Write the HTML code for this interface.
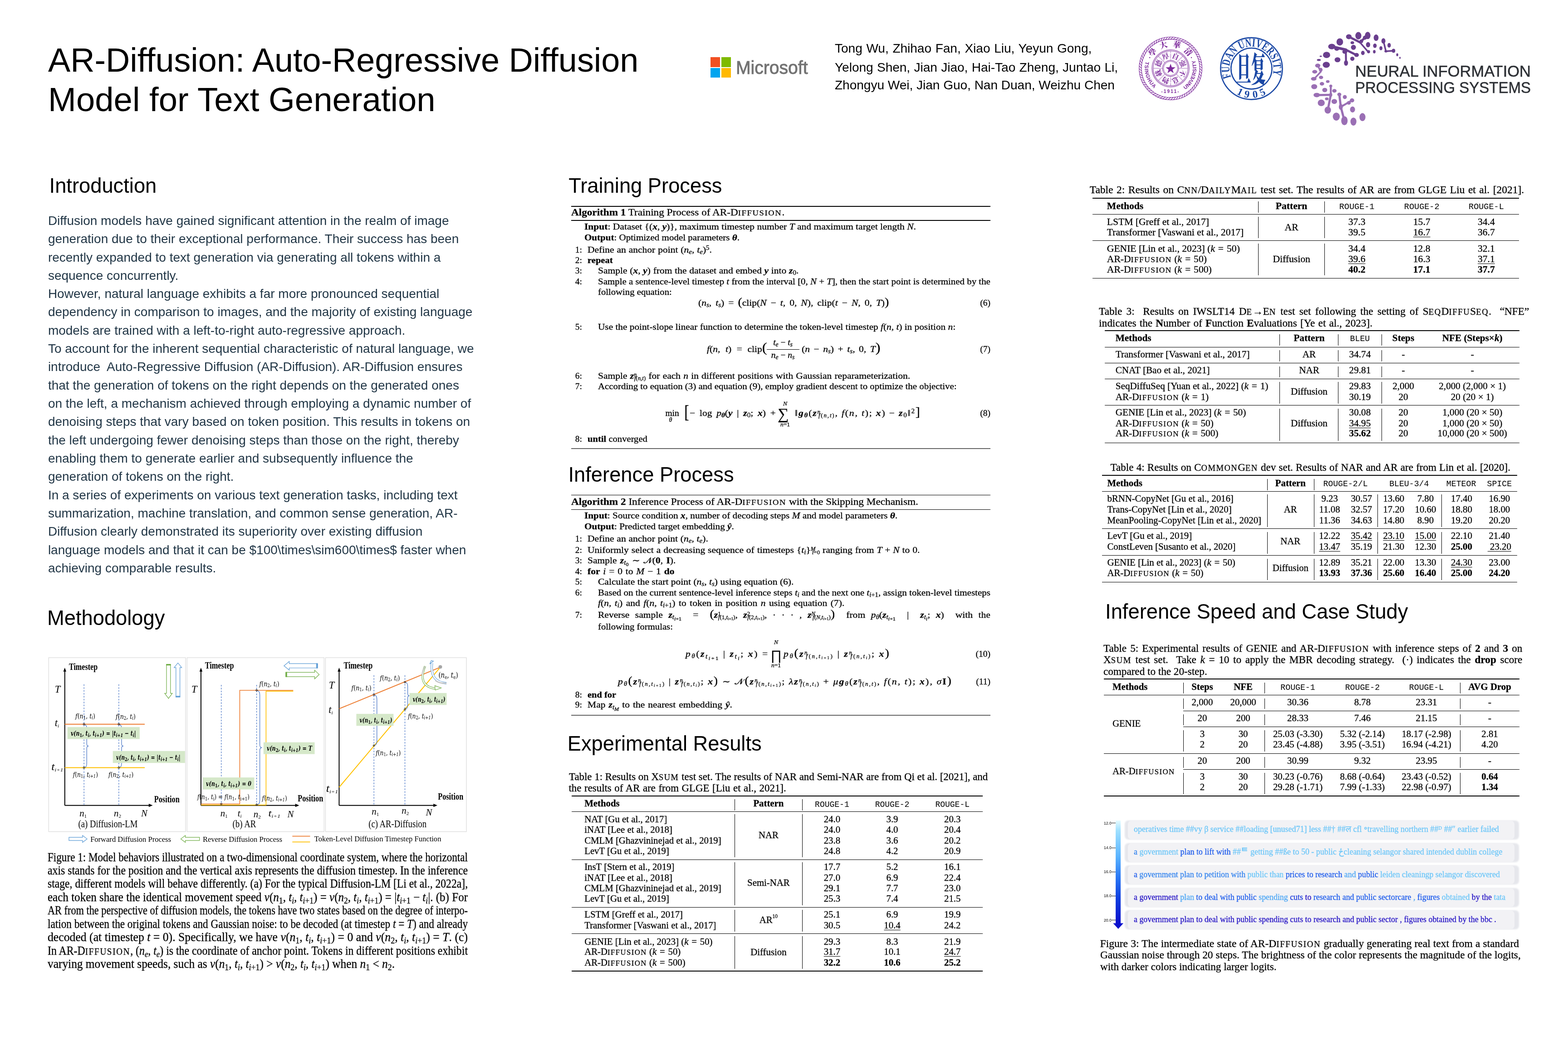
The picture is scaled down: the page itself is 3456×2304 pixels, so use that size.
<!DOCTYPE html>
<html><head><meta charset="utf-8"><title>AR-Diffusion Poster</title><style>
*{margin:0;padding:0;box-sizing:border-box}
html,body{width:3456px;height:2304px;background:#fff;overflow:hidden}
body{position:relative;font-family:"Liberation Sans", Arial, sans-serif;color:#000}
.a{position:absolute;white-space:nowrap}
.S{font-family:"Liberation Sans", Arial, sans-serif}
.R{font-family:"Liberation Serif", "Times New Roman", serif;-webkit-text-stroke:0.3px currentColor}
.M{font-family:"Liberation Mono", monospace}
.sc{text-transform:uppercase;font-size:0.8em;letter-spacing:0.09em}
i{font-style:italic}
b{font-weight:bold}
.u{text-decoration:underline;text-decoration-thickness:1.2px;text-underline-offset:3px}
sub,sup{font-size:70%;line-height:0}
sub{vertical-align:-0.25em}
sup{vertical-align:0.45em}
</style></head><body>
<div class="a S " style="left:106.3px;top:95.7px;font-size:73.8px;line-height:73.8px;transform:scaleX(0.9997);transform-origin:0 0;">AR-Diffusion: Auto-Regressive Diffusion</div>
<div class="a S " style="left:106.3px;top:183.4px;font-size:73.8px;line-height:73.8px;transform:scaleX(1.0070);transform-origin:0 0;">Model for Text Generation</div>
<div class="a" style="left:1565.5px;top:126.2px;width:21.7px;height:21.4px;background:#f25022"></div>
<div class="a" style="left:1589.7px;top:126.2px;width:21.7px;height:21.4px;background:#7fba00"></div>
<div class="a" style="left:1565.5px;top:150.1px;width:21.7px;height:21.2px;background:#00a4ef"></div>
<div class="a" style="left:1589.7px;top:150.1px;width:21.7px;height:21.2px;background:#ffb900"></div>
<div class="a S " style="left:1621.5px;top:129.0px;font-size:40px;line-height:40px;color:#737373;-webkit-text-stroke:0.9px #737373;transform:scaleX(0.9769);transform-origin:0 0;">Microsoft</div>
<div class="a S " style="left:1840.0px;top:92.9px;font-size:28px;line-height:28px;word-spacing:0.918px;">Tong Wu, Zhihao Fan, Xiao Liu, Yeyun Gong,</div>
<div class="a S " style="left:1840.0px;top:134.5px;font-size:28px;line-height:28px;word-spacing:0.579px;">Yelong Shen, Jian Jiao, Hai-Tao Zheng, Juntao Li,</div>
<div class="a S " style="left:1840.0px;top:174.0px;font-size:28px;line-height:28px;">Zhongyu Wei, Jian Guo, Nan Duan, Weizhu Chen</div>
<svg class="a" style="left:2500px;top:60px" width="360" height="180" viewBox="0 0 2352 1176"><circle cx="523" cy="593" r="453" fill="none" stroke="#7d2a9c" stroke-width="7"/><circle cx="523" cy="593" r="419" fill="none" stroke="#7d2a9c" stroke-width="7"/><path d="M523.0,173.0L558.5,142.4M559.6,174.6L597.6,147.2M595.9,179.4L636.2,155.4M631.7,187.3L673.9,166.9M666.6,198.3L710.4,181.7M700.5,212.4L745.6,199.6M733.0,229.3L779.0,220.5M763.9,249.0L810.5,244.2M793.0,271.3L839.8,270.6M820.0,296.0L866.7,299.4M844.7,323.0L891.0,330.5M867.0,352.1L912.5,363.6M886.7,383.0L931.0,398.4M903.6,415.5L946.4,434.7M917.7,449.4L958.6,472.2M928.7,484.3L967.4,510.6M936.6,520.1L972.9,549.7M941.4,556.4L975.0,589.1M943.0,593.0L973.6,628.5M941.4,629.6L968.8,667.6M936.6,665.9L960.6,706.2M928.7,701.7L949.1,743.9M917.7,736.6L934.3,780.4M903.6,770.5L916.4,815.6M886.7,803.0L895.5,849.0M867.0,833.9L871.8,880.5M844.7,863.0L845.4,909.8M820.0,890.0L816.6,936.7M793.0,914.7L785.5,961.0M763.9,937.0L752.4,982.5M733.0,956.7L717.6,1001.0M700.5,973.6L681.3,1016.4M666.6,987.7L643.8,1028.6M631.7,998.7L605.4,1037.4M595.9,1006.6L566.3,1042.9M559.6,1011.4L526.9,1045.0M523.0,1013.0L487.5,1043.6M486.4,1011.4L448.4,1038.8M450.1,1006.6L409.8,1030.6M414.3,998.7L372.1,1019.1M379.4,987.7L335.6,1004.3M345.5,973.6L300.4,986.4M313.0,956.7L267.0,965.5M282.1,937.0L235.5,941.8M253.0,914.7L206.2,915.4M226.0,890.0L179.3,886.6M201.3,863.0L155.0,855.5M179.0,833.9L133.5,822.4M159.3,803.0L115.0,787.6M142.4,770.5L99.6,751.3M128.3,736.6L87.4,713.8M117.3,701.7L78.6,675.4M109.4,665.9L73.1,636.3M104.6,629.6L71.0,596.9M103.0,593.0L72.4,557.5M104.6,556.4L77.2,518.4M109.4,520.1L85.4,479.8M117.3,484.3L96.9,442.1M128.3,449.4L111.7,405.6M142.4,415.5L129.6,370.4M159.3,383.0L150.5,337.0M179.0,352.1L174.2,305.5M201.3,323.0L200.6,276.2M226.0,296.0L229.4,249.3M253.0,271.3L260.5,225.0M282.1,249.0L293.6,203.5M313.0,229.3L328.4,185.0M345.5,212.4L364.7,169.6M379.4,198.3L402.2,157.4M414.3,187.3L440.6,148.6M450.1,179.4L479.7,143.1M486.4,174.6L519.1,141.0" stroke="#7d2a9c" stroke-width="8" fill="none"/><circle cx="523" cy="593" r="270" fill="none" stroke="#7d2a9c" stroke-width="5"/><circle cx="523" cy="593" r="248" fill="none" stroke="#7d2a9c" stroke-width="4"/><path d="M523.0,344.0L539.4,324.5M540.4,344.6L558.1,326.3M557.7,346.4L576.6,329.4M574.8,349.4L594.9,333.8M591.6,353.6L612.8,339.4M608.2,359.0L630.3,346.3M624.3,365.5L647.2,354.4M639.9,373.1L663.6,363.6M654.9,381.8L679.2,374.0M669.4,391.6L694.1,385.4M683.1,402.3L708.2,397.9M696.0,413.9L721.3,411.3M708.0,426.4L733.5,425.5M719.2,439.7L744.7,440.6M729.4,453.8L754.8,456.5M738.6,468.5L763.7,473.0M746.8,483.8L771.5,490.1M753.9,499.7L778.1,507.6M759.8,516.1L783.4,525.6M764.6,532.8L787.5,544.0M768.2,549.8L790.3,562.5M770.6,567.0L791.7,581.3M771.8,584.3L791.9,600.0M771.8,601.7L790.8,618.8M770.6,619.0L788.3,637.4M768.2,636.2L784.6,655.8M764.6,653.2L779.5,673.9M759.8,669.9L773.3,691.6M753.9,686.3L765.8,708.8M746.8,702.2L757.1,725.5M738.6,717.5L747.3,741.5M729.4,732.2L736.4,756.8M719.2,746.3L724.5,771.2M708.0,759.6L711.5,784.9M696.0,772.1L697.7,797.5M683.1,783.7L683.0,809.2M669.4,794.4L667.5,819.9M654.9,804.2L651.4,829.4M639.9,812.9L634.6,837.8M624.3,820.5L617.2,845.0M608.2,827.0L599.4,850.9M591.6,832.4L581.2,855.6M574.8,836.6L562.8,859.0M557.7,839.6L544.1,861.2M540.4,841.4L525.3,862.0M523.0,842.0L506.6,861.5M505.6,841.4L487.9,859.7M488.3,839.6L469.4,856.6M471.2,836.6L451.1,852.2M454.4,832.4L433.2,846.6M437.8,827.0L415.7,839.7M421.7,820.5L398.8,831.6M406.1,812.9L382.4,822.4M391.1,804.2L366.8,812.0M376.6,794.4L351.9,800.6M362.9,783.7L337.8,788.1M350.0,772.1L324.7,774.7M338.0,759.6L312.5,760.5M326.8,746.3L301.3,745.4M316.6,732.2L291.2,729.5M307.4,717.5L282.3,713.0M299.2,702.2L274.5,695.9M292.1,686.3L267.9,678.4M286.2,669.9L262.6,660.4M281.4,653.2L258.5,642.0M277.8,636.2L255.7,623.5M275.4,619.0L254.3,604.7M274.2,601.7L254.1,586.0M274.2,584.3L255.2,567.2M275.4,567.0L257.7,548.6M277.8,549.8L261.4,530.2M281.4,532.8L266.5,512.1M286.2,516.1L272.7,494.4M292.1,499.7L280.2,477.2M299.2,483.8L288.9,460.5M307.4,468.5L298.7,444.5M316.6,453.8L309.6,429.2M326.8,439.7L321.5,414.8M338.0,426.4L334.5,401.1M350.0,413.9L348.3,388.5M362.9,402.3L363.0,376.8M376.6,391.6L378.5,366.1M391.1,381.8L394.6,356.6M406.1,373.1L411.4,348.2M421.7,365.5L428.8,341.0M437.8,359.0L446.6,335.1M454.4,353.6L464.8,330.4M471.2,349.4L483.2,327.0M488.3,346.4L501.9,324.8M505.6,344.6L520.7,324.0" stroke="#7d2a9c" stroke-width="6" fill="none"/><circle cx="523" cy="593" r="118" fill="none" stroke="#7d2a9c" stroke-width="5"/><circle cx="523" cy="593" r="100" fill="none" stroke="#7d2a9c" stroke-width="4"/><circle cx="523" cy="593" r="109" fill="none" stroke="#7d2a9c" stroke-width="16" stroke-dasharray="4 8"/><line x1="523.0" y1="473.0" x2="523.0" y2="345.0" stroke="#7d2a9c" stroke-width="16" stroke-dasharray="3 7"/><line x1="607.9" y1="508.1" x2="698.4" y2="417.6" stroke="#7d2a9c" stroke-width="16" stroke-dasharray="3 7"/><line x1="643.0" y1="593.0" x2="771.0" y2="593.0" stroke="#7d2a9c" stroke-width="16" stroke-dasharray="3 7"/><line x1="607.9" y1="677.9" x2="698.4" y2="768.4" stroke="#7d2a9c" stroke-width="16" stroke-dasharray="3 7"/><line x1="523.0" y1="713.0" x2="523.0" y2="841.0" stroke="#7d2a9c" stroke-width="16" stroke-dasharray="3 7"/><line x1="438.1" y1="677.9" x2="347.6" y2="768.4" stroke="#7d2a9c" stroke-width="16" stroke-dasharray="3 7"/><line x1="403.0" y1="593.0" x2="275.0" y2="593.0" stroke="#7d2a9c" stroke-width="16" stroke-dasharray="3 7"/><line x1="438.1" y1="508.1" x2="347.6" y2="417.6" stroke="#7d2a9c" stroke-width="16" stroke-dasharray="3 7"/><polygon points="523.0,526.0 540.6,576.7 594.3,577.8 551.5,610.3 567.1,661.7 523.0,631.0 478.9,661.7 494.5,610.3 451.7,577.8 505.4,576.7" fill="#7d2a9c"/><text x="593.8" y="422.1" font-size="100" font-weight="bold" fill="#7d2a9c" text-anchor="middle" dominant-baseline="central" font-family="Liberation Serif, Noto Serif CJK SC, Noto Sans CJK SC, serif" transform="rotate(22.5 593.8 422.1)">自</text><text x="693.9" y="522.2" font-size="100" font-weight="bold" fill="#7d2a9c" text-anchor="middle" dominant-baseline="central" font-family="Liberation Serif, Noto Serif CJK SC, Noto Sans CJK SC, serif" transform="rotate(67.5 693.9 522.2)">强</text><text x="693.9" y="663.8" font-size="100" font-weight="bold" fill="#7d2a9c" text-anchor="middle" dominant-baseline="central" font-family="Liberation Serif, Noto Serif CJK SC, Noto Sans CJK SC, serif" transform="rotate(112.5 693.9 663.8)">不</text><text x="593.8" y="763.9" font-size="100" font-weight="bold" fill="#7d2a9c" text-anchor="middle" dominant-baseline="central" font-family="Liberation Serif, Noto Serif CJK SC, Noto Sans CJK SC, serif" transform="rotate(157.5 593.8 763.9)">息</text><text x="452.2" y="763.9" font-size="100" font-weight="bold" fill="#7d2a9c" text-anchor="middle" dominant-baseline="central" font-family="Liberation Serif, Noto Serif CJK SC, Noto Sans CJK SC, serif" transform="rotate(202.5 452.2 763.9)">物</text><text x="352.1" y="663.8" font-size="100" font-weight="bold" fill="#7d2a9c" text-anchor="middle" dominant-baseline="central" font-family="Liberation Serif, Noto Serif CJK SC, Noto Sans CJK SC, serif" transform="rotate(247.5 352.1 663.8)">載</text><text x="352.1" y="522.2" font-size="100" font-weight="bold" fill="#7d2a9c" text-anchor="middle" dominant-baseline="central" font-family="Liberation Serif, Noto Serif CJK SC, Noto Sans CJK SC, serif" transform="rotate(292.5 352.1 522.2)">德</text><text x="452.2" y="422.1" font-size="100" font-weight="bold" fill="#7d2a9c" text-anchor="middle" dominant-baseline="central" font-family="Liberation Serif, Noto Serif CJK SC, Noto Sans CJK SC, serif" transform="rotate(337.5 452.2 422.1)">厚</text><text x="266.6" y="362.1" font-size="112" font-weight="900" fill="#7d2a9c" text-anchor="middle" dominant-baseline="central" font-family="Liberation Serif, Noto Serif CJK SC, Noto Sans CJK SC, serif" transform="rotate(-48.0 266.6 362.1)">學</text><text x="422.1" y="263.1" font-size="112" font-weight="900" fill="#7d2a9c" text-anchor="middle" dominant-baseline="central" font-family="Liberation Serif, Noto Serif CJK SC, Noto Sans CJK SC, serif" transform="rotate(-17.0 422.1 263.1)">大</text><text x="612.3" y="259.8" font-size="112" font-weight="900" fill="#7d2a9c" text-anchor="middle" dominant-baseline="central" font-family="Liberation Serif, Noto Serif CJK SC, Noto Sans CJK SC, serif" transform="rotate(15.0 612.3 259.8)">華</text><text x="775.3" y="357.7" font-size="112" font-weight="900" fill="#7d2a9c" text-anchor="middle" dominant-baseline="central" font-family="Liberation Serif, Noto Serif CJK SC, Noto Sans CJK SC, serif" transform="rotate(47.0 775.3 357.7)">清</text><defs><path id="tsl" d="M178.1,453.6 A372,372 0 0 0 325.9,908.5"/><path id="tsr" d="M709.0,915.2 A372,372 0 0 0 862.8,441.7"/><path id="tsb" d="M808.0,832.1 A372,372 0 0 1 238.0,832.1"/></defs><text font-size="74" font-weight="bold" fill="#7d2a9c" font-family="Liberation Sans, sans-serif" letter-spacing="6"><textPath href="#tsl" startOffset="50%" text-anchor="middle">TSINGHUA</textPath></text><text font-size="74" font-weight="bold" fill="#7d2a9c" font-family="Liberation Sans, sans-serif" letter-spacing="4"><textPath href="#tsr" startOffset="50%" text-anchor="middle">UNIVERSITY</textPath></text><text x="523" y="945" font-size="66" font-weight="bold" fill="#7d2a9c" text-anchor="middle" font-family="Liberation Sans, sans-serif" letter-spacing="14">-1911-</text><circle cx="223" cy="438" r="8" fill="#7d2a9c"/><circle cx="823" cy="438" r="8" fill="#7d2a9c"/><circle cx="1688" cy="596" r="445" fill="none" stroke="#1a48a5" stroke-width="17"/><circle cx="1688" cy="596" r="295" fill="none" stroke="#1a48a5" stroke-width="17"/><defs><path id="fdt" d="M1395.3,720.3 A318,318 0 1 1 1971.3,740.4"/></defs><text font-size="170" fill="#1a48a5" font-family="Liberation Serif, serif" font-weight="bold" letter-spacing="2" textLength="1220" lengthAdjust="spacingAndGlyphs"><textPath href="#fdt" startOffset="0">FUDAN UNIVERSITY</textPath></text><text x="1523.6" y="933.0" font-size="150" font-weight="bold" fill="#1a48a5" text-anchor="middle" dominant-baseline="central" font-family="Liberation Serif, serif" transform="rotate(26.0 1523.6 933.0)">1</text><text x="1622.9" y="965.3" font-size="150" font-weight="bold" fill="#1a48a5" text-anchor="middle" dominant-baseline="central" font-family="Liberation Serif, serif" transform="rotate(10.0 1622.9 965.3)">9</text><text x="1740.2" y="967.4" font-size="150" font-weight="bold" fill="#1a48a5" text-anchor="middle" dominant-baseline="central" font-family="Liberation Serif, serif" transform="rotate(-8.0 1740.2 967.4)">0</text><text x="1846.5" y="935.9" font-size="150" font-weight="bold" fill="#1a48a5" text-anchor="middle" dominant-baseline="central" font-family="Liberation Serif, serif" transform="rotate(-25.0 1846.5 935.9)">5</text><text x="1682" y="781" font-size="490" font-weight="900" fill="#1a48a5" text-anchor="middle" textLength="420" lengthAdjust="spacingAndGlyphs" font-family="Liberation Serif, Noto Serif CJK SC, serif">旦复</text></svg>
<svg class="a" style="left:2880px;top:50px" width="520" height="240" viewBox="0 0 2352 1086"><ellipse cx="515" cy="130" rx="30" ry="37" fill="#6a3f8e"/><ellipse cx="608" cy="128" rx="28" ry="36" fill="#6a3f8e"/><ellipse cx="692" cy="150" rx="24" ry="32" fill="#6a3f8e"/><ellipse cx="765" cy="182" rx="20" ry="27" fill="#6a3f8e"/><ellipse cx="420" cy="140" rx="28" ry="25" fill="#6a3f8e"/><ellipse cx="330" cy="192" rx="33" ry="36" fill="#6a3f8e"/><ellipse cx="250" cy="238" rx="36" ry="28" fill="#6a3f8e"/><ellipse cx="198" cy="322" rx="36" ry="31" fill="#6a3f8e"/><ellipse cx="195" cy="420" rx="36" ry="30" fill="#6a3f8e"/><ellipse cx="307" cy="370" rx="29" ry="25" fill="#6a3f8e"/><ellipse cx="392" cy="402" rx="20" ry="28" fill="#6a3f8e"/><ellipse cx="466" cy="246" rx="25" ry="25" fill="#6a3f8e"/><ellipse cx="455" cy="360" rx="21" ry="21" fill="#6a3f8e"/><ellipse cx="497" cy="322" rx="23" ry="20" fill="#6a3f8e"/><ellipse cx="560" cy="302" rx="18" ry="21" fill="#6a3f8e"/><ellipse cx="612" cy="220" rx="21" ry="26" fill="#6a3f8e"/><ellipse cx="617" cy="290" rx="15" ry="16" fill="#6a3f8e"/><ellipse cx="680" cy="230" rx="18" ry="22" fill="#6a3f8e"/><ellipse cx="674" cy="290" rx="13" ry="17" fill="#6a3f8e"/><ellipse cx="740" cy="255" rx="15" ry="20" fill="#6a3f8e"/><ellipse cx="822" cy="226" rx="17" ry="23" fill="#6a3f8e"/><ellipse cx="866" cy="280" rx="17" ry="20" fill="#6a3f8e"/><ellipse cx="903" cy="320" rx="10" ry="15" fill="#6a3f8e"/><ellipse cx="930" cy="351" rx="7" ry="10" fill="#6a3f8e"/><ellipse cx="140" cy="335" rx="12" ry="7" fill="#6a3f8e"/><ellipse cx="121" cy="372" rx="19" ry="10" fill="#6a3f8e"/><ellipse cx="545" cy="185" rx="18" ry="18" fill="#6a3f8e"/><ellipse cx="580" cy="150" rx="20" ry="20" fill="#6a3f8e"/><ellipse cx="380" cy="290" rx="25" ry="20" fill="#6a3f8e"/><ellipse cx="300" cy="260" rx="25" ry="20" fill="#6a3f8e"/><ellipse cx="790" cy="285" rx="15" ry="12" fill="#6a3f8e"/><ellipse cx="455" cy="200" rx="18" ry="14" fill="#6a3f8e"/><ellipse cx="110" cy="428" rx="26" ry="20" fill="#9a6fb4"/><ellipse cx="80" cy="490" rx="25" ry="18" fill="#9a6fb4"/><ellipse cx="143" cy="546" rx="21" ry="17" fill="#9a6fb4"/><ellipse cx="70" cy="560" rx="28" ry="18" fill="#9a6fb4"/><ellipse cx="210" cy="587" rx="18" ry="14" fill="#9a6fb4"/><ellipse cx="152" cy="610" rx="22" ry="18" fill="#9a6fb4"/><ellipse cx="75" cy="638" rx="30" ry="25" fill="#9a6fb4"/><ellipse cx="240" cy="632" rx="15" ry="14" fill="#9a6fb4"/><ellipse cx="180" cy="672" rx="25" ry="22" fill="#9a6fb4"/><ellipse cx="276" cy="680" rx="22" ry="18" fill="#9a6fb4"/><ellipse cx="100" cy="722" rx="32" ry="22" fill="#9a6fb4"/><ellipse cx="325" cy="716" rx="20" ry="18" fill="#9a6fb4"/><ellipse cx="380" cy="742" rx="20" ry="20" fill="#9a6fb4"/><ellipse cx="145" cy="800" rx="35" ry="33" fill="#9a6fb4"/><ellipse cx="275" cy="786" rx="28" ry="25" fill="#9a6fb4"/><ellipse cx="452" cy="775" rx="22" ry="20" fill="#9a6fb4"/><ellipse cx="210" cy="872" rx="32" ry="35" fill="#9a6fb4"/><ellipse cx="457" cy="866" rx="25" ry="30" fill="#9a6fb4"/><ellipse cx="295" cy="937" rx="35" ry="40" fill="#9a6fb4"/><ellipse cx="376" cy="978" rx="32" ry="45" fill="#9a6fb4"/><ellipse cx="466" cy="987" rx="30" ry="40" fill="#9a6fb4"/><ellipse cx="556" cy="942" rx="30" ry="40" fill="#9a6fb4"/><ellipse cx="140" cy="470" rx="18" ry="20" fill="#9a6fb4"/><ellipse cx="240" cy="720" rx="15" ry="20" fill="#9a6fb4"/><ellipse cx="340" cy="840" rx="20" ry="30" fill="#9a6fb4"/><ellipse cx="420" cy="800" rx="20" ry="18" fill="#9a6fb4"/><ellipse cx="200" cy="760" rx="18" ry="14" fill="#9a6fb4"/><line x1="250" y1="238" x2="390" y2="270" stroke="#6a3f8e" stroke-width="26" stroke-linecap="round"/><line x1="390" y1="270" x2="500" y2="325" stroke="#6a3f8e" stroke-width="22" stroke-linecap="round"/><line x1="390" y1="270" x2="392" y2="402" stroke="#6a3f8e" stroke-width="19" stroke-linecap="round"/><line x1="420" y1="140" x2="530" y2="195" stroke="#6a3f8e" stroke-width="22" stroke-linecap="round"/><line x1="530" y1="195" x2="608" y2="128" stroke="#6a3f8e" stroke-width="22" stroke-linecap="round"/><line x1="530" y1="195" x2="612" y2="290" stroke="#6a3f8e" stroke-width="16" stroke-linecap="round"/><line x1="765" y1="182" x2="790" y2="285" stroke="#6a3f8e" stroke-width="16" stroke-linecap="round"/><line x1="790" y1="285" x2="866" y2="280" stroke="#6a3f8e" stroke-width="16" stroke-linecap="round"/><line x1="110" y1="428" x2="140" y2="490" stroke="#9a6fb4" stroke-width="16" stroke-linecap="round"/><line x1="140" y1="490" x2="75" y2="560" stroke="#9a6fb4" stroke-width="16" stroke-linecap="round"/><line x1="240" y1="632" x2="240" y2="720" stroke="#9a6fb4" stroke-width="19" stroke-linecap="round"/><line x1="240" y1="720" x2="100" y2="722" stroke="#9a6fb4" stroke-width="22" stroke-linecap="round"/><line x1="240" y1="720" x2="210" y2="872" stroke="#9a6fb4" stroke-width="22" stroke-linecap="round"/><line x1="325" y1="716" x2="340" y2="840" stroke="#9a6fb4" stroke-width="22" stroke-linecap="round"/><line x1="340" y1="840" x2="452" y2="775" stroke="#9a6fb4" stroke-width="19" stroke-linecap="round"/><line x1="340" y1="840" x2="376" y2="978" stroke="#9a6fb4" stroke-width="22" stroke-linecap="round"/></svg>
<div class="a S " style="left:2986.5px;top:140.2px;font-size:34.5px;line-height:34.5px;color:#2d3035;-webkit-text-stroke:0.5px #2d3035;transform:scaleX(0.9995);transform-origin:0 0;">NEURAL INFORMATION</div>
<div class="a S " style="left:2986.5px;top:175.6px;font-size:34.5px;line-height:34.5px;color:#2d3035;-webkit-text-stroke:0.5px #2d3035;transform:scaleX(0.9567);transform-origin:0 0;">PROCESSING SYSTEMS</div>
<div class="a S " style="left:108.6px;top:387.1px;font-size:45.3px;line-height:45.3px;">Introduction</div>
<div class="a S" style="left:105.9px;top:466.9px;font-size:28px;line-height:40.305px;color:#213646">Diffusion models have gained significant attention in the realm of image<br>generation due to their exceptional performance. Their success has been<br>recently expanded to text generation via generating all tokens within a<br>sequence concurrently.<br>However, natural language exhibits a far more pronounced sequential<br>dependency in comparison to images, and the majority of existing language<br>models are trained with a left-to-right auto-regressive approach.<br>To account for the inherent sequential characteristic of natural language, we<br>introduce&nbsp; Auto-Regressive Diffusion (AR-Diffusion). AR-Diffusion ensures<br>that the generation of tokens on the right depends on the generated ones<br>on the left, a mechanism achieved through employing a dynamic number of<br>denoising steps that vary based on token position. This results in tokens on<br>the left undergoing fewer denoising steps than those on the right, thereby<br>enabling them to generate earlier and subsequently influence the<br>generation of tokens on the right.<br>In a series of experiments on various text generation tasks, including text<br>summarization, machine translation, and common sense generation, AR-<br>Diffusion clearly demonstrated its superiority over existing diffusion<br>language models and that it can be $100\times\sim600\times$ faster when<br>achieving comparable results.</div>
<div class="a S " style="left:104.0px;top:1340.2px;font-size:45.3px;line-height:45.3px;">Methodology</div>
<svg class="a" style="left:100px;top:1440px" width="940" height="440" viewBox="0 0 2352 1101"><rect x="18" y="25" width="755" height="960" fill="none" stroke="#d9d9d9" stroke-width="3"/><rect x="781" y="25" width="756" height="960" fill="none" stroke="#d9d9d9" stroke-width="3"/><rect x="1545" y="25" width="777" height="960" fill="none" stroke="#d9d9d9" stroke-width="3"/><line x1="107" y1="840" x2="580" y2="840" stroke="#000" stroke-width="5"/><path d="M592,840 l-22,-9 l0,18 z" fill="#000"/><line x1="107" y1="840" x2="107" y2="94" stroke="#000" stroke-width="5"/><path d="M107,80 l-8,22 l16,0 z" fill="#000"/><text x="130" y="92" font-size="50" font-family="Liberation Serif, serif" font-weight="bold" font-style="normal" fill="#000" text-anchor="start" textLength="158" lengthAdjust="spacingAndGlyphs" >Timestep</text><text x="600" y="822" font-size="50" font-family="Liberation Serif, serif" font-weight="bold" font-style="normal" fill="#000" text-anchor="start" textLength="140" lengthAdjust="spacingAndGlyphs" >Position</text><text x="52" y="218" font-size="56" font-family="Liberation Serif, serif" font-weight="normal" font-style="italic" fill="#000" text-anchor="start" >T</text><text x="52" y="403" font-size="56" font-family="Liberation Serif, serif" font-weight="normal" font-style="italic" fill="#000" text-anchor="start" >t<tspan font-size="28" baseline-shift="-8">i</tspan></text><text x="33" y="645" font-size="56" font-family="Liberation Serif, serif" font-weight="normal" font-style="italic" fill="#000" text-anchor="start" textLength="65" lengthAdjust="spacingAndGlyphs" >t<tspan font-size="28" baseline-shift="-8">i+1</tspan></text><line x1="213" y1="172" x2="213" y2="840" stroke="#4472c4" stroke-width="3" stroke-dasharray="9 7"/><line x1="405" y1="172" x2="405" y2="840" stroke="#4472c4" stroke-width="3" stroke-dasharray="9 7"/><line x1="107" y1="392" x2="548" y2="392" stroke="#ed7d31" stroke-width="5"/><line x1="107" y1="632" x2="548" y2="632" stroke="#ffc000" stroke-width="5"/><path d="M215,395 q13.2,0 13.2,22 L228.2,499.3 q0,13.2 9.9,13.2 q-9.9,0 -9.9,13.2 L228.2,608 q0,22 -13.2,22" fill="none" stroke="#4472c4" stroke-width="3"/><path d="M407,395 q13.2,0 13.2,22 L420.2,499.3 q0,13.2 9.9,13.2 q-9.9,0 -9.9,13.2 L420.2,608 q0,22 -13.2,22" fill="none" stroke="#4472c4" stroke-width="3"/><rect x="122" y="408" width="398" height="66" fill="#d5e8c9" stroke="none" stroke-width="0"/><text x="140" y="455.0" font-size="38" font-family="DejaVu Serif, Liberation Serif, serif" font-weight="bold" font-style="italic" fill="#000" text-anchor="start" textLength="360" lengthAdjust="spacingAndGlyphs" >v(n<tspan font-size="28" baseline-shift="-8" font-style="normal">1</tspan>, t<tspan font-size="28" baseline-shift="-8">i</tspan>, t<tspan font-size="28" baseline-shift="-8">i+1</tspan>) = |t<tspan font-size="28" baseline-shift="-8">i+1</tspan> − t<tspan font-size="28" baseline-shift="-8">i</tspan>|</text><rect x="372" y="540" width="398" height="66" fill="#d5e8c9" stroke="none" stroke-width="0"/><text x="390" y="587.0" font-size="38" font-family="DejaVu Serif, Liberation Serif, serif" font-weight="bold" font-style="italic" fill="#000" text-anchor="start" textLength="355" lengthAdjust="spacingAndGlyphs" >v(n<tspan font-size="28" baseline-shift="-8" font-style="normal">2</tspan>, t<tspan font-size="28" baseline-shift="-8">i</tspan>, t<tspan font-size="28" baseline-shift="-8">i+1</tspan>) = |t<tspan font-size="28" baseline-shift="-8">i+1</tspan> − t<tspan font-size="28" baseline-shift="-8">i</tspan>|</text><circle cx="213" cy="392" r="4.5" fill="none" stroke="#000" stroke-width="2.5"/><circle cx="405" cy="392" r="4.5" fill="none" stroke="#000" stroke-width="2.5"/><circle cx="213" cy="632" r="4.5" fill="none" stroke="#000" stroke-width="2.5"/><circle cx="405" cy="632" r="4.5" fill="none" stroke="#000" stroke-width="2.5"/><text x="165" y="360" font-size="38" font-family="DejaVu Serif, Liberation Serif, serif" font-weight="normal" font-style="normal" fill="#000" text-anchor="start" textLength="110" lengthAdjust="spacingAndGlyphs" font-style="normal"><tspan font-style="italic">f</tspan>(<tspan font-style="italic">n</tspan><tspan font-size="26" dy="6">1</tspan><tspan dy="-6">,</tspan> <tspan font-style="italic">t</tspan><tspan font-size="26" font-style="italic" dy="6">i</tspan><tspan dy="-6">)</tspan></text><text x="388" y="362" font-size="38" font-family="DejaVu Serif, Liberation Serif, serif" font-weight="normal" font-style="normal" fill="#000" text-anchor="start" textLength="110" lengthAdjust="spacingAndGlyphs" font-style="normal"><tspan font-style="italic">f</tspan>(<tspan font-style="italic">n</tspan><tspan font-size="26" dy="6">2</tspan><tspan dy="-6">,</tspan> <tspan font-style="italic">t</tspan><tspan font-size="26" font-style="italic" dy="6">i</tspan><tspan dy="-6">)</tspan></text><text x="152" y="682" font-size="38" font-family="DejaVu Serif, Liberation Serif, serif" font-weight="normal" font-style="normal" fill="#000" text-anchor="start" textLength="138" lengthAdjust="spacingAndGlyphs" font-style="normal"><tspan font-style="italic">f</tspan>(<tspan font-style="italic">n</tspan><tspan font-size="26" dy="6">1</tspan><tspan dy="-6">,</tspan> <tspan font-style="italic">t</tspan><tspan font-size="26" font-style="italic" dy="6">i+1</tspan><tspan dy="-6">)</tspan></text><text x="348" y="682" font-size="38" font-family="DejaVu Serif, Liberation Serif, serif" font-weight="normal" font-style="normal" fill="#000" text-anchor="start" textLength="138" lengthAdjust="spacingAndGlyphs" font-style="normal"><tspan font-style="italic">f</tspan>(<tspan font-style="italic">n</tspan><tspan font-size="26" dy="6">2</tspan><tspan dy="-6">,</tspan> <tspan font-style="italic">t</tspan><tspan font-size="26" font-style="italic" dy="6">i+1</tspan><tspan dy="-6">)</tspan></text><text x="188" y="900" font-size="52" font-family="Liberation Serif, serif" font-weight="normal" font-style="italic" fill="#000" text-anchor="start" >n<tspan font-size="28" baseline-shift="-8" font-style="normal">1</tspan></text><text x="378" y="900" font-size="52" font-family="Liberation Serif, serif" font-weight="normal" font-style="italic" fill="#000" text-anchor="start" >n<tspan font-size="28" baseline-shift="-8" font-style="normal">2</tspan></text><text x="528" y="900" font-size="52" font-family="Liberation Serif, serif" font-weight="normal" font-style="italic" fill="#000" text-anchor="start" >N</text><text x="345" y="962" font-size="56" font-family="Liberation Serif, serif" font-weight="normal" font-style="normal" fill="#000" text-anchor="middle" textLength="327" lengthAdjust="spacingAndGlyphs" >(a) Diffusion-LM</text><path d="M668,64 L690,64 L690,222 L700,222 L679,250 L658,222 L668,222 Z" fill="none" stroke="#70ad47" stroke-width="3"/><rect x="666" y="60" width="26" height="8" fill="#70ad47" stroke="none" stroke-width="0"/><path d="M720,240 L742,240 L742,80 L752,80 L731,54 L710,80 L720,80 Z" fill="none" stroke="#5b9bd5" stroke-width="3"/><rect x="718" y="236" width="26" height="8" fill="#5b9bd5" stroke="none" stroke-width="0"/><line x1="858" y1="840" x2="1388" y2="840" stroke="#000" stroke-width="5"/><path d="M1400,840 l-22,-9 l0,18 z" fill="#000"/><line x1="858" y1="840" x2="858" y2="94" stroke="#000" stroke-width="5"/><path d="M858,80 l-8,22 l16,0 z" fill="#000"/><text x="880" y="85" font-size="50" font-family="Liberation Serif, serif" font-weight="bold" font-style="normal" fill="#000" text-anchor="start" textLength="160" lengthAdjust="spacingAndGlyphs" >Timestep</text><text x="1392" y="818" font-size="50" font-family="Liberation Serif, serif" font-weight="bold" font-style="normal" fill="#000" text-anchor="start" textLength="140" lengthAdjust="spacingAndGlyphs" >Position</text><text x="806" y="218" font-size="56" font-family="Liberation Serif, serif" font-weight="normal" font-style="italic" fill="#000" text-anchor="start" >T</text><line x1="970" y1="175" x2="970" y2="840" stroke="#4472c4" stroke-width="3" stroke-dasharray="9 7"/><line x1="1165" y1="175" x2="1165" y2="840" stroke="#4472c4" stroke-width="3" stroke-dasharray="9 7"/><path d="M858,832 L1072,832 L1072,205 L1367,205" fill="none" stroke="#ed7d31" stroke-width="4"/><path d="M858,838 L1217,838 L1217,210 L1367,210" fill="none" stroke="#ffc000" stroke-width="4"/><path d="M1167,207 q15.6,0 15.6,26 L1182.6,505.9 q0,15.6 11.700000000000001,15.6 q-11.700000000000001,0 -11.700000000000001,15.6 L1182.6,810 q0,26 -15.6,26" fill="none" stroke="#4472c4" stroke-width="3"/><rect x="868" y="686" width="284" height="66" fill="#d5e8c9" stroke="none" stroke-width="0"/><text x="886" y="733.0" font-size="38" font-family="DejaVu Serif, Liberation Serif, serif" font-weight="bold" font-style="italic" fill="#000" text-anchor="start" textLength="250" lengthAdjust="spacingAndGlyphs" >v(n<tspan font-size="28" baseline-shift="-8" font-style="normal">1</tspan>, t<tspan font-size="28" baseline-shift="-8">i</tspan>, t<tspan font-size="28" baseline-shift="-8">i+1</tspan>) = 0</text><rect x="1203" y="492" width="282" height="65" fill="#d5e8c9" stroke="none" stroke-width="0"/><text x="1221" y="538.5" font-size="38" font-family="DejaVu Serif, Liberation Serif, serif" font-weight="bold" font-style="italic" fill="#000" text-anchor="start" textLength="250" lengthAdjust="spacingAndGlyphs" >v(n<tspan font-size="28" baseline-shift="-8" font-style="normal">2</tspan>, t<tspan font-size="28" baseline-shift="-8">i</tspan>, t<tspan font-size="28" baseline-shift="-8">i+1</tspan>) = T</text><circle cx="970" cy="832" r="4.5" fill="none" stroke="#000" stroke-width="2.5"/><circle cx="1165" cy="205" r="4.5" fill="none" stroke="#000" stroke-width="2.5"/><circle cx="1165" cy="836" r="4.5" fill="none" stroke="#000" stroke-width="2.5"/><text x="1180" y="182" font-size="38" font-family="DejaVu Serif, Liberation Serif, serif" font-weight="normal" font-style="normal" fill="#000" text-anchor="start" textLength="110" lengthAdjust="spacingAndGlyphs" font-style="normal"><tspan font-style="italic">f</tspan>(<tspan font-style="italic">n</tspan><tspan font-size="26" dy="6">2</tspan><tspan dy="-6">,</tspan> <tspan font-style="italic">t</tspan><tspan font-size="26" font-style="italic" dy="6">i</tspan><tspan dy="-6">)</tspan></text><text x="838" y="805" font-size="38" font-family="DejaVu Serif, Liberation Serif, serif" font-weight="normal" font-style="normal" fill="#000" text-anchor="start" textLength="288" lengthAdjust="spacingAndGlyphs" ><tspan font-style="italic">f</tspan>(<tspan font-style="italic">n</tspan><tspan font-size="28" baseline-shift="-8" font-style="normal">1</tspan>, <tspan font-style="italic">t</tspan><tspan font-size="28" baseline-shift="-8">i</tspan>) = <tspan font-style="italic">f</tspan>(<tspan font-style="italic">n</tspan><tspan font-size="28" baseline-shift="-8" font-style="normal">1</tspan>, <tspan font-style="italic">t</tspan><tspan font-size="28" baseline-shift="-8">i+1</tspan>)</text><text x="1195" y="812" font-size="38" font-family="DejaVu Serif, Liberation Serif, serif" font-weight="normal" font-style="normal" fill="#000" text-anchor="start" textLength="138" lengthAdjust="spacingAndGlyphs" font-style="normal"><tspan font-style="italic">f</tspan>(<tspan font-style="italic">n</tspan><tspan font-size="26" dy="6">2</tspan><tspan dy="-6">,</tspan> <tspan font-style="italic">t</tspan><tspan font-size="26" font-style="italic" dy="6">i+1</tspan><tspan dy="-6">)</tspan></text><text x="965" y="902" font-size="52" font-family="Liberation Serif, serif" font-weight="normal" font-style="italic" fill="#000" text-anchor="start" >n<tspan font-size="28" baseline-shift="-8" font-style="normal">1</tspan></text><text x="1060" y="902" font-size="52" font-family="Liberation Serif, serif" font-weight="normal" font-style="italic" fill="#000" text-anchor="start" >t<tspan font-size="28" baseline-shift="-8">i</tspan></text><text x="1148" y="905" font-size="52" font-family="Liberation Serif, serif" font-weight="normal" font-style="italic" fill="#000" text-anchor="start" >n<tspan font-size="28" baseline-shift="-8" font-style="normal">2</tspan></text><text x="1230" y="902" font-size="52" font-family="Liberation Serif, serif" font-weight="normal" font-style="italic" fill="#000" text-anchor="start" textLength="66" lengthAdjust="spacingAndGlyphs" >t<tspan font-size="28" baseline-shift="-8">i+1</tspan></text><text x="1335" y="905" font-size="52" font-family="Liberation Serif, serif" font-weight="normal" font-style="italic" fill="#000" text-anchor="start" >N</text><text x="1097" y="962" font-size="56" font-family="Liberation Serif, serif" font-weight="normal" font-style="normal" fill="#000" text-anchor="middle" textLength="130" lengthAdjust="spacingAndGlyphs" >(b) AR</text><path d="M1497,58 L1345,58 L1345,46 L1316,70 L1345,94 L1345,82 L1497,82 Z" fill="none" stroke="#5b9bd5" stroke-width="3"/><rect x="1494" y="56" width="9" height="28" fill="#5b9bd5" stroke="none" stroke-width="0"/><path d="M1330,106 L1485,106 L1485,94 L1510,118 L1485,142 L1485,130 L1330,130 Z" fill="none" stroke="#70ad47" stroke-width="3"/><rect x="1324" y="104" width="9" height="28" fill="#70ad47" stroke="none" stroke-width="0"/><line x1="1620" y1="840" x2="2150" y2="840" stroke="#000" stroke-width="5"/><path d="M2162,840 l-22,-9 l0,18 z" fill="#000"/><line x1="1620" y1="840" x2="1620" y2="94" stroke="#000" stroke-width="5"/><path d="M1620,80 l-8,22 l16,0 z" fill="#000"/><text x="1645" y="85" font-size="50" font-family="Liberation Serif, serif" font-weight="bold" font-style="normal" fill="#000" text-anchor="start" textLength="160" lengthAdjust="spacingAndGlyphs" >Timestep</text><text x="2165" y="808" font-size="50" font-family="Liberation Serif, serif" font-weight="bold" font-style="normal" fill="#000" text-anchor="start" textLength="140" lengthAdjust="spacingAndGlyphs" >Position</text><text x="1563" y="195" font-size="56" font-family="Liberation Serif, serif" font-weight="normal" font-style="italic" fill="#000" text-anchor="start" >T</text><text x="1562" y="330" font-size="56" font-family="Liberation Serif, serif" font-weight="normal" font-style="italic" fill="#000" text-anchor="start" >t<tspan font-size="28" baseline-shift="-8">i</tspan></text><text x="1548" y="765" font-size="56" font-family="Liberation Serif, serif" font-weight="normal" font-style="italic" fill="#000" text-anchor="start" textLength="66" lengthAdjust="spacingAndGlyphs" >t<tspan font-size="28" baseline-shift="-8">i+1</tspan></text><line x1="1812" y1="122" x2="1812" y2="840" stroke="#4472c4" stroke-width="3" stroke-dasharray="9 7"/><line x1="1983" y1="122" x2="1983" y2="840" stroke="#4472c4" stroke-width="3" stroke-dasharray="9 7"/><line x1="1620" y1="307" x2="2178" y2="78" stroke="#ed7d31" stroke-width="5"/><line x1="1620" y1="740" x2="2178" y2="78" stroke="#ffc000" stroke-width="5"/><path d="M1814,232 q14.399999999999999,0 14.399999999999999,24 L1828.4,355.6 q0,14.399999999999999 10.8,14.399999999999999 q-10.8,0 -10.8,14.399999999999999 L1828.4,484 q0,24 -14.399999999999999,24" fill="none" stroke="#4472c4" stroke-width="3"/><path d="M1985,162 q13.2,0 13.2,22 L1998.2,221.8 q0,13.2 9.9,13.2 q-9.9,0 -9.9,13.2 L1998.2,286 q0,22 -13.2,22" fill="none" stroke="#4472c4" stroke-width="3"/><rect x="1715" y="335" width="205" height="66" fill="#d5e8c9" stroke="none" stroke-width="0"/><text x="1733" y="382.0" font-size="38" font-family="DejaVu Serif, Liberation Serif, serif" font-weight="bold" font-style="italic" fill="#000" text-anchor="start" textLength="180" lengthAdjust="spacingAndGlyphs" >v(n<tspan font-size="28" baseline-shift="-8" font-style="normal">1</tspan>, t<tspan font-size="28" baseline-shift="-8">i</tspan>, t<tspan font-size="28" baseline-shift="-8">i+1</tspan>)</text><rect x="2008" y="220" width="205" height="66" fill="#d5e8c9" stroke="none" stroke-width="0"/><text x="2026" y="267.0" font-size="38" font-family="DejaVu Serif, Liberation Serif, serif" font-weight="bold" font-style="italic" fill="#000" text-anchor="start" textLength="180" lengthAdjust="spacingAndGlyphs" >v(n<tspan font-size="28" baseline-shift="-8" font-style="normal">2</tspan>, t<tspan font-size="28" baseline-shift="-8">i</tspan>, t<tspan font-size="28" baseline-shift="-8">i+1</tspan>)</text><circle cx="1812" cy="230" r="4.5" fill="none" stroke="#000" stroke-width="2.5"/><circle cx="1983" cy="160" r="4.5" fill="none" stroke="#000" stroke-width="2.5"/><circle cx="1812" cy="510" r="4.5" fill="none" stroke="#000" stroke-width="2.5"/><circle cx="1983" cy="310" r="4.5" fill="none" stroke="#000" stroke-width="2.5"/><text x="1688" y="205" font-size="38" font-family="DejaVu Serif, Liberation Serif, serif" font-weight="normal" font-style="normal" fill="#000" text-anchor="start" textLength="110" lengthAdjust="spacingAndGlyphs" font-style="normal"><tspan font-style="italic">f</tspan>(<tspan font-style="italic">n</tspan><tspan font-size="26" dy="6">1</tspan><tspan dy="-6">,</tspan> <tspan font-style="italic">t</tspan><tspan font-size="26" font-style="italic" dy="6">i</tspan><tspan dy="-6">)</tspan></text><text x="1845" y="150" font-size="38" font-family="DejaVu Serif, Liberation Serif, serif" font-weight="normal" font-style="normal" fill="#000" text-anchor="start" textLength="110" lengthAdjust="spacingAndGlyphs" font-style="normal"><tspan font-style="italic">f</tspan>(<tspan font-style="italic">n</tspan><tspan font-size="26" dy="6">2</tspan><tspan dy="-6">,</tspan> <tspan font-style="italic">t</tspan><tspan font-size="26" font-style="italic" dy="6">i</tspan><tspan dy="-6">)</tspan></text><text x="2000" y="360" font-size="38" font-family="DejaVu Serif, Liberation Serif, serif" font-weight="normal" font-style="normal" fill="#000" text-anchor="start" textLength="138" lengthAdjust="spacingAndGlyphs" font-style="normal"><tspan font-style="italic">f</tspan>(<tspan font-style="italic">n</tspan><tspan font-size="26" dy="6">2</tspan><tspan dy="-6">,</tspan> <tspan font-style="italic">t</tspan><tspan font-size="26" font-style="italic" dy="6">i+1</tspan><tspan dy="-6">)</tspan></text><text x="1822" y="562" font-size="38" font-family="DejaVu Serif, Liberation Serif, serif" font-weight="normal" font-style="normal" fill="#000" text-anchor="start" textLength="138" lengthAdjust="spacingAndGlyphs" font-style="normal"><tspan font-style="italic">f</tspan>(<tspan font-style="italic">n</tspan><tspan font-size="26" dy="6">1</tspan><tspan dy="-6">,</tspan> <tspan font-style="italic">t</tspan><tspan font-size="26" font-style="italic" dy="6">i+1</tspan><tspan dy="-6">)</tspan></text><text x="2168" y="135" font-size="42" font-family="DejaVu Serif, Liberation Serif, serif" font-weight="normal" font-style="normal" fill="#000" text-anchor="start" textLength="108" lengthAdjust="spacingAndGlyphs" >(<tspan font-style="italic">n</tspan><tspan font-size="28" baseline-shift="-8">e</tspan>, <tspan font-style="italic">t</tspan><tspan font-size="28" baseline-shift="-8">e</tspan>)</text><circle cx="2178" cy="76" r="10" fill="#a6a6a6"/><path d="M2094,72 Q2050,180 2150,196" fill="none" stroke="#70ad47" stroke-width="11"/><path d="M2094,72 Q2050,180 2150,196" fill="none" stroke="#fff" stroke-width="6"/><path d="M2094,72 Q2075,110 2078,120" fill="none" stroke="#c8c8c8" stroke-width="6"/><path d="M2148,180 L2183,192 L2150,204 Z" fill="#fff" stroke="#70ad47" stroke-width="3"/><path d="M2212,166 Q2120,160 2132,55" fill="none" stroke="#5b9bd5" stroke-width="12"/><path d="M2212,166 Q2120,160 2132,55" fill="none" stroke="#fff" stroke-width="7"/><path d="M2212,166 Q2170,168 2150,150" fill="none" stroke="#c8c8c8" stroke-width="7"/><path d="M2120,60 L2128,41 L2140,44 Z" fill="#fff" stroke="#5b9bd5" stroke-width="3"/><text x="1800" y="892" font-size="52" font-family="Liberation Serif, serif" font-weight="normal" font-style="italic" fill="#000" text-anchor="start" >n<tspan font-size="28" baseline-shift="-8" font-style="normal">1</tspan></text><text x="1965" y="887" font-size="52" font-family="Liberation Serif, serif" font-weight="normal" font-style="italic" fill="#000" text-anchor="start" >n<tspan font-size="28" baseline-shift="-8" font-style="normal">2</tspan></text><text x="2098" y="897" font-size="52" font-family="Liberation Serif, serif" font-weight="normal" font-style="italic" fill="#000" text-anchor="start" >N</text><text x="1942" y="962" font-size="56" font-family="Liberation Serif, serif" font-weight="normal" font-style="normal" fill="#000" text-anchor="middle" textLength="320" lengthAdjust="spacingAndGlyphs" >(c) AR-Diffusion</text><path d="M130,1016 L205,1016 L205,1006 L230,1025 L205,1044 L205,1034 L130,1034 Z" fill="none" stroke="#5b9bd5" stroke-width="3"/><text x="248" y="1040" font-size="44" font-family="Liberation Serif, serif" font-weight="normal" font-style="normal" fill="#000" text-anchor="start" textLength="445" lengthAdjust="spacingAndGlyphs" >Forward Diffusion Process</text><path d="M850,1016 L772,1016 L772,1006 L747,1025 L772,1044 L772,1034 L850,1034 Z" fill="none" stroke="#70ad47" stroke-width="3"/><text x="868" y="1040" font-size="44" font-family="Liberation Serif, serif" font-weight="normal" font-style="normal" fill="#000" text-anchor="start" textLength="438" lengthAdjust="spacingAndGlyphs" >Reverse Diffusion Process</text><line x1="1362" y1="1010" x2="1460" y2="1010" stroke="#ed7d31" stroke-width="4"/><line x1="1362" y1="1042" x2="1460" y2="1042" stroke="#ffc000" stroke-width="4"/><text x="1483" y="1038" font-size="44" font-family="Liberation Serif, serif" font-weight="normal" font-style="normal" fill="#000" text-anchor="start" textLength="700" lengthAdjust="spacingAndGlyphs" >Token-Level Diffusion Timestep Function</text></svg>
<div class="a R " style="left:105.0px;top:1876.5px;font-size:26.6px;line-height:26.6px;transform:scaleX(0.8701);transform-origin:0 0;">Figure 1: Model behaviors illustrated on a two-dimensional coordinate system, where the horizontal</div>
<div class="a R " style="left:105.0px;top:1905.9px;font-size:26.6px;line-height:26.6px;transform:scaleX(0.8922);transform-origin:0 0;">axis stands for the position and the vertical axis represents the diffusion timestep. In the inference</div>
<div class="a R " style="left:105.0px;top:1935.4px;font-size:26.6px;line-height:26.6px;transform:scaleX(0.8889);transform-origin:0 0;">stage, different models will behave differently. (a) For the typical Diffusion-LM [Li et al., 2022a],</div>
<div class="a R " style="left:105.0px;top:1964.8px;font-size:26.6px;line-height:26.6px;transform:scaleX(0.9420);transform-origin:0 0;">each token share the identical movement speed <i>v</i>(<i>n</i><sub>1</sub>, <i>t<sub>i</sub></i>, <i>t</i><sub><i>i</i>+1</sub>) = <i>v</i>(<i>n</i><sub>2</sub>, <i>t<sub>i</sub></i>, <i>t</i><sub><i>i</i>+1</sub>) = |<i>t</i><sub><i>i</i>+1</sub> − <i>t<sub>i</sub></i>|. (b) For</div>
<div class="a R " style="left:105.0px;top:1994.2px;font-size:26.6px;line-height:26.6px;transform:scaleX(0.8385);transform-origin:0 0;">AR from the perspective of diffusion models, the tokens have two states based on the degree of interpo-</div>
<div class="a R " style="left:105.0px;top:2023.6px;font-size:26.6px;line-height:26.6px;transform:scaleX(0.8724);transform-origin:0 0;">lation between the original tokens and Gaussian noise: to be decoded (at timestep <i>t</i> = <i>T</i>) and already</div>
<div class="a R " style="left:105.0px;top:2053.0px;font-size:26.6px;line-height:26.6px;transform:scaleX(0.9671);transform-origin:0 0;">decoded (at timestep <i>t</i> = 0). Specifically, we have <i>v</i>(<i>n</i><sub>1</sub>, <i>t<sub>i</sub></i>, <i>t</i><sub><i>i</i>+1</sub>) = 0 and <i>v</i>(<i>n</i><sub>2</sub>, <i>t<sub>i</sub></i>, <i>t</i><sub><i>i</i>+1</sub>) = <i>T</i>. (c)</div>
<div class="a R " style="left:105.0px;top:2082.5px;font-size:26.6px;line-height:26.6px;transform:scaleX(0.8956);transform-origin:0 0;">In AR-D<span class="sc">iffusion</span>, (<i>n<sub>e</sub></i>, <i>t<sub>e</sub></i>) is the coordinate of anchor point. Tokens in different positions exhibit</div>
<div class="a R " style="left:105.0px;top:2111.9px;font-size:26.6px;line-height:26.6px;transform:scaleX(0.9540);transform-origin:0 0;">varying movement speeds, such as <i>v</i>(<i>n</i><sub>1</sub>, <i>t<sub>i</sub></i>, <i>t</i><sub><i>i</i>+1</sub>) &gt; <i>v</i>(<i>n</i><sub>2</sub>, <i>t<sub>i</sub></i>, <i>t</i><sub><i>i</i>+1</sub>) when <i>n</i><sub>1</sub> &lt; <i>n</i><sub>2</sub>.</div>
<div class="a S " style="left:1253.3px;top:386.8px;font-size:45.3px;line-height:45.3px;">Training Process</div>
<div class="a" style="left:1258.8px;top:454.10px;width:924.1px;height:1.8px;background:#000"></div>
<div class="a R " style="left:1258.8px;top:457.7px;font-size:21.5px;line-height:21.5px;transform:scaleX(1.0781);transform-origin:0 0;"><b>Algorithm 1</b> Training Process of AR-D<span class="sc">iffusion</span>.</div>
<div class="a" style="left:1258.8px;top:485.45px;width:924.1px;height:1.1px;background:#000"></div>
<div class="a R " style="left:1287.8px;top:490.1px;font-size:19.4px;line-height:19.4px;transform:scaleX(1.1098);transform-origin:0 0;"><b>Input</b>: Dataset {(<b><i>x</i></b>, <b><i>y</i></b>)}, maximum timestep number <i>T</i> and maximum target length <i>N</i>.</div>
<div class="a R " style="left:1287.8px;top:513.9px;font-size:19.4px;line-height:19.4px;transform:scaleX(1.0842);transform-origin:0 0;"><b>Output</b>: Optimized model parameters <b><i>θ</i></b>.</div>
<div class="a R " style="left:1267.7px;top:541.1px;font-size:19.4px;line-height:19.4px;">1:</div>
<div class="a R " style="left:1294.6px;top:541.1px;font-size:19.4px;line-height:19.4px;transform:scaleX(1.1100);transform-origin:0 0;word-spacing:0.466px;">Define an anchor point (<i>n</i><sub><i>e</i></sub>, <i>t</i><sub><i>e</i></sub>)<sup>5</sup>.</div>
<div class="a R " style="left:1267.7px;top:564.1px;font-size:19.4px;line-height:19.4px;">2:</div>
<div class="a R " style="left:1294.6px;top:564.1px;font-size:19.4px;line-height:19.4px;transform:scaleX(1.0609);transform-origin:0 0;"><b>repeat</b></div>
<div class="a R " style="left:1267.7px;top:587.4px;font-size:19.4px;line-height:19.4px;">3:</div>
<div class="a R " style="left:1318.0px;top:587.4px;font-size:19.4px;line-height:19.4px;transform:scaleX(1.1100);transform-origin:0 0;word-spacing:0.293px;">Sample (<b><i>x</i></b>, <b><i>y</i></b>) from the dataset and embed <b><i>y</i></b> into <b><i>z</i></b><sub>0</sub>.</div>
<div class="a R " style="left:1267.7px;top:610.9px;font-size:19.4px;line-height:19.4px;">4:</div>
<div class="a R " style="left:1318.0px;top:610.9px;font-size:19.4px;line-height:19.4px;transform:scaleX(1.0784);transform-origin:0 0;">Sample a sentence-level timestep <i>t</i> from the interval [0, <i>N</i> + <i>T</i>], then the start point is determined by the</div>
<div class="a R " style="left:1318.0px;top:634.2px;font-size:19.4px;line-height:19.4px;transform:scaleX(1.0681);transform-origin:0 0;">following equation:</div>
<div class="a R " style="left:1539.2px;top:657.9px;font-size:19.4px;line-height:19.4px;transform:scaleX(1.1100);transform-origin:0 0;word-spacing:3.284px;">(<i>n</i><sub><i>s</i></sub>, <i>t</i><sub><i>s</i></sub>) = <span style="font-size:130%;line-height:0">(</span>clip(<i>N</i> − <i>t</i>, 0, <i>N</i>), clip(<i>t</i> − <i>N</i>, 0, <i>T</i>)<span style="font-size:130%;line-height:0">)</span></div>
<div class="a R" style="left:1582.9px;width:600px;text-align:right;top:657.9px;font-size:19.4px;line-height:19.4px;">(6)</div>
<div class="a R " style="left:1267.7px;top:711.4px;font-size:19.4px;line-height:19.4px;">5:</div>
<div class="a R " style="left:1318.0px;top:711.4px;font-size:19.4px;line-height:19.4px;transform:scaleX(1.0978);transform-origin:0 0;">Use the point-slope linear function to determine the token-level timestep <i>f</i>(<i>n</i>, <i>t</i>) in position <i>n</i>:</div>
<div class="a R " style="left:1558.4px;top:760.3px;font-size:19.4px;line-height:19.4px;transform:scaleX(1.1100);transform-origin:0 0;word-spacing:5.648px;"><i>f</i>(<i>n</i>, <i>t</i>) = clip<span style="font-size:150%;line-height:0">(</span></div>
<div class="a R" style="left:1425.5px;width:600px;text-align:center;top:745.2px;font-size:19.4px;line-height:19.4px;"><i>t</i><sub><i>e</i></sub> − <i>t</i><sub><i>s</i></sub></div>
<div class="a" style="left:1689.5px;top:769.50px;width:72.5px;height:1.0px;background:#000"></div>
<div class="a R" style="left:1425.5px;width:600px;text-align:center;top:773.0px;font-size:19.4px;line-height:19.4px;"><i>n</i><sub><i>e</i></sub> − <i>n</i><sub><i>s</i></sub></div>
<div class="a R " style="left:1766.5px;top:760.3px;font-size:19.4px;line-height:19.4px;transform:scaleX(1.1100);transform-origin:0 0;word-spacing:2.856px;">(<i>n</i> − <i>n</i><sub><i>s</i></sub>) + <i>t</i><sub><i>s</i></sub>, 0, <i>T</i><span style="font-size:150%;line-height:0">)</span></div>
<div class="a R" style="left:1582.9px;width:600px;text-align:right;top:760.3px;font-size:19.4px;line-height:19.4px;">(7)</div>
<div class="a R " style="left:1267.7px;top:818.7px;font-size:19.4px;line-height:19.4px;">6:</div>
<div class="a R " style="left:1318.0px;top:818.7px;font-size:19.4px;line-height:19.4px;transform:scaleX(1.1100);transform-origin:0 0;word-spacing:0.710px;">Sample <b><i>z</i></b><sup style="font-size:60%"><i>n</i></sup><sub style="font-size:60%;margin-left:-0.45em"><i>f</i>(<i>n</i>,<i>t</i>)</sub> for each <i>n</i> in different positions with Gaussian reparameterization.</div>
<div class="a R " style="left:1267.7px;top:842.0px;font-size:19.4px;line-height:19.4px;">7:</div>
<div class="a R " style="left:1318.0px;top:842.0px;font-size:19.4px;line-height:19.4px;transform:scaleX(1.0764);transform-origin:0 0;">According to equation (3) and equation (9), employ gradient descent to optimize the objective:</div>
<div class="a R " style="left:1466.5px;top:901.1px;font-size:19.4px;line-height:19.4px;">min</div>
<div class="a R " style="left:1474.5px;top:919.3px;font-size:14px;line-height:14px;"><i>θ</i></div>
<div class="a R " style="left:1508.5px;top:895.9px;font-size:30px;line-height:30px;transform:scaleY(1.35);transform-origin:0 70%;font-weight:100">[</div>
<div class="a R " style="left:1519.5px;top:901.1px;font-size:19.4px;line-height:19.4px;transform:scaleX(1.1100);transform-origin:0 0;word-spacing:3.948px;">− log <i>p</i><sub><b><i>θ</i></b></sub>(<b><i>y</i></b> | <b><i>z</i></b><sub>0</sub>; <b><i>x</i></b>) +</div>
<div class="a R " style="left:1714.0px;top:896.0px;font-size:34px;line-height:34px;">∑</div>
<div class="a R" style="left:1430.5px;width:600px;text-align:center;top:883.2px;font-size:13.5px;line-height:13.5px;"><i>N</i></div>
<div class="a R" style="left:1430.5px;width:600px;text-align:center;top:928.5px;font-size:13.5px;line-height:13.5px;"><i>n</i>=1</div>
<div class="a R " style="left:1752.2px;top:901.1px;font-size:19.4px;line-height:19.4px;transform:scaleX(1.1100);transform-origin:0 0;letter-spacing:1.662px;">‖<b><i>g</i></b><sub><b><i>θ</i></b></sub>(<b><i>z</i></b><sup style="font-size:60%"><i>n</i></sup><sub style="font-size:60%;margin-left:-0.45em"><i>f</i>(<i>n</i>,<i>t</i>)</sub>, <i>f</i>(<i>n</i>, <i>t</i>); <b><i>x</i></b>) − <b><i>z</i></b><sub>0</sub>‖<sup>2</sup><span style="font-size:140%;line-height:0">]</span></div>
<div class="a R" style="left:1582.9px;width:600px;text-align:right;top:901.1px;font-size:19.4px;line-height:19.4px;">(8)</div>
<div class="a R " style="left:1267.7px;top:957.5px;font-size:19.4px;line-height:19.4px;">8:</div>
<div class="a R " style="left:1294.6px;top:957.5px;font-size:19.4px;line-height:19.4px;transform:scaleX(1.0630);transform-origin:0 0;"><b>until</b> converged</div>
<div class="a" style="left:1258.8px;top:988.15px;width:924.1px;height:1.7px;background:#666"></div>
<div class="a S " style="left:1252.5px;top:1023.5px;font-size:45.3px;line-height:45.3px;">Inference Process</div>
<div class="a" style="left:1258.8px;top:1090.70px;width:924.1px;height:1.8px;background:#000"></div>
<div class="a R " style="left:1258.8px;top:1096.1px;font-size:21.5px;line-height:21.5px;transform:scaleX(1.0798);transform-origin:0 0;"><b>Algorithm 2</b> Inference Process of AR-D<span class="sc">iffusion</span> with the Skipping Mechanism.</div>
<div class="a" style="left:1258.8px;top:1122.95px;width:924.1px;height:1.1px;background:#000"></div>
<div class="a R " style="left:1287.8px;top:1126.5px;font-size:19.4px;line-height:19.4px;transform:scaleX(1.0965);transform-origin:0 0;"><b>Input</b>: Source condition <b><i>x</i></b>, number of decoding steps <i>M</i> and model parameters <b><i>θ</i></b>.</div>
<div class="a R " style="left:1287.8px;top:1150.9px;font-size:19.4px;line-height:19.4px;transform:scaleX(1.0928);transform-origin:0 0;"><b>Output</b>: Predicted target embedding <b><i>ŷ</i></b>.</div>
<div class="a R " style="left:1267.7px;top:1178.3px;font-size:19.4px;line-height:19.4px;">1:</div>
<div class="a R " style="left:1294.6px;top:1178.3px;font-size:19.4px;line-height:19.4px;transform:scaleX(1.1100);transform-origin:0 0;word-spacing:0.351px;">Define an anchor point (<i>n</i><sub><i>e</i></sub>, <i>t</i><sub><i>e</i></sub>).</div>
<div class="a R " style="left:1267.7px;top:1202.8px;font-size:19.4px;line-height:19.4px;">2:</div>
<div class="a R " style="left:1294.6px;top:1202.8px;font-size:19.4px;line-height:19.4px;transform:scaleX(1.1100);transform-origin:0 0;word-spacing:0.473px;">Uniformly select a decreasing sequence of timesteps {<i>t</i><sub><i>i</i></sub>}<sup style="font-size:60%"><i>M</i></sup><sub style="font-size:60%;margin-left:-0.6em"><i>i</i>=0</sub> ranging from <i>T</i> + <i>N</i> to 0.</div>
<div class="a R " style="left:1267.7px;top:1225.6px;font-size:19.4px;line-height:19.4px;">3:</div>
<div class="a R " style="left:1294.6px;top:1225.6px;font-size:19.4px;line-height:19.4px;transform:scaleX(1.1100);transform-origin:0 0;word-spacing:1.733px;">Sample <b><i>z</i></b><sub><i>t</i><sub style="font-size:80%">0</sub></sub> ∼ 𝒩(<b>0</b>, <b>I</b>).</div>
<div class="a R " style="left:1267.7px;top:1250.1px;font-size:19.4px;line-height:19.4px;">4:</div>
<div class="a R " style="left:1294.6px;top:1250.1px;font-size:19.4px;line-height:19.4px;transform:scaleX(1.1100);transform-origin:0 0;word-spacing:1.321px;"><b>for</b> <i>i</i> = 0 to <i>M</i> − 1 <b>do</b></div>
<div class="a R " style="left:1267.7px;top:1273.4px;font-size:19.4px;line-height:19.4px;">5:</div>
<div class="a R " style="left:1318.0px;top:1273.4px;font-size:19.4px;line-height:19.4px;transform:scaleX(1.1100);transform-origin:0 0;">Calculate the start point (<i>n</i><sub><i>s</i></sub>, <i>t</i><sub><i>s</i></sub>) using equation (6).</div>
<div class="a R " style="left:1267.7px;top:1296.7px;font-size:19.4px;line-height:19.4px;">6:</div>
<div class="a R " style="left:1318.0px;top:1296.7px;font-size:19.4px;line-height:19.4px;transform:scaleX(1.0817);transform-origin:0 0;">Based on the current sentence-level inference steps <i>t</i><sub><i>i</i></sub> and the next one <i>t</i><sub><i>i</i>+1</sub>, assign token-level timesteps</div>
<div class="a R " style="left:1318.0px;top:1319.5px;font-size:19.4px;line-height:19.4px;transform:scaleX(1.1100);transform-origin:0 0;word-spacing:1.912px;"><i>f</i>(<i>n</i>, <i>t</i><sub><i>i</i></sub>) and <i>f</i>(<i>n</i>, <i>t</i><sub><i>i</i>+1</sub>) to token in position <i>n</i> using equation (7).</div>
<div class="a R " style="left:1267.7px;top:1345.6px;font-size:19.4px;line-height:19.4px;">7:</div>
<div class="a R " style="left:1318.0px;top:1345.6px;font-size:19.4px;line-height:19.4px;transform:scaleX(1.1100);transform-origin:0 0;word-spacing:6.452px;">Reverse sample <b><i>z</i></b><sub><i>t</i><sub style="font-size:80%"><i>i</i>+1</sub></sub> &nbsp;= &nbsp;<span style="font-size:130%;line-height:0">(</span><b><i>z</i></b><sup style="font-size:60%">1</sup><sub style="font-size:60%;margin-left:-0.45em"><i>f</i>(1,<i>t</i><sub><i>i</i>+1</sub>)</sub>, <b><i>z</i></b><sup style="font-size:60%">2</sup><sub style="font-size:60%;margin-left:-0.45em"><i>f</i>(2,<i>t</i><sub><i>i</i>+1</sub>)</sub>, · · · , <b><i>z</i></b><sup style="font-size:60%"><i>N</i></sup><sub style="font-size:60%;margin-left:-0.45em"><i>f</i>(<i>N</i>,<i>t</i><sub><i>i</i>+1</sub>)</sub><span style="font-size:130%;line-height:0">)</span> &nbsp;from <i>p</i><sub><i>θ</i></sub>(<b><i>z</i></b><sub><i>t</i><sub style="font-size:80%"><i>i</i>+1</sub></sub> &nbsp;| &nbsp;<b><i>z</i></b><sub><i>t<sub style="font-size:80%">i</sub></i></sub>; <b><i>x</i></b>) &nbsp;with the</div>
<div class="a R " style="left:1318.0px;top:1372.2px;font-size:19.4px;line-height:19.4px;transform:scaleX(1.0668);transform-origin:0 0;">following formulas:</div>
<div class="a R " style="left:1511.4px;top:1432.2px;font-size:19.4px;line-height:19.4px;transform:scaleX(1.1100);transform-origin:0 0;letter-spacing:2.325px;"><i>p</i><sub><i>θ</i></sub>(<b><i>z</i></b><sub><i>t</i><sub style="font-size:80%"><i>i</i>+1</sub></sub> | <b><i>z</i></b><sub><i>t<sub style="font-size:80%">i</sub></i></sub>; <b><i>x</i></b>) =</div>
<div class="a S " style="left:1698.5px;top:1430.1px;font-size:30px;line-height:30px;font-family:"DejaVu Serif",serif;transform:scaleY(1.25);transform-origin:0 80%">∏</div>
<div class="a R" style="left:1410.5px;width:600px;text-align:center;top:1408.5px;font-size:13.5px;line-height:13.5px;"><i>N</i></div>
<div class="a R" style="left:1410.5px;width:600px;text-align:center;top:1459.5px;font-size:13.5px;line-height:13.5px;"><i>n</i>=1</div>
<div class="a R " style="left:1727.0px;top:1432.2px;font-size:19.4px;line-height:19.4px;transform:scaleX(1.1100);transform-origin:0 0;letter-spacing:2.357px;"><i>p</i><sub><i>θ</i></sub><span style="font-size:125%;line-height:0">(</span><b><i>z</i></b><sup style="font-size:60%"><i>n</i></sup><sub style="font-size:60%;margin-left:-0.45em"><i>f</i>(<i>n</i>,<i>t</i><sub><i>i</i>+1</sub>)</sub> | <b><i>z</i></b><sup style="font-size:60%"><i>n</i></sup><sub style="font-size:60%;margin-left:-0.45em"><i>f</i>(<i>n</i>,<i>t<sub>i</sub></i>)</sub>; <b><i>x</i></b><span style="font-size:125%;line-height:0">)</span></div>
<div class="a R" style="left:1582.9px;width:600px;text-align:right;top:1432.2px;font-size:19.4px;line-height:19.4px;">(10)</div>
<div class="a R " style="left:1362.4px;top:1493.4px;font-size:19.4px;line-height:19.4px;transform:scaleX(1.1100);transform-origin:0 0;letter-spacing:1.957px;"><i>p</i><sub><i>θ</i></sub><span style="font-size:125%;line-height:0">(</span><b><i>z</i></b><sup style="font-size:60%"><i>n</i></sup><sub style="font-size:60%;margin-left:-0.45em"><i>f</i>(<i>n</i>,<i>t</i><sub><i>i</i>+1</sub>)</sub> | <b><i>z</i></b><sup style="font-size:60%"><i>n</i></sup><sub style="font-size:60%;margin-left:-0.45em"><i>f</i>(<i>n</i>,<i>t<sub>i</sub></i>)</sub>; <b><i>x</i></b><span style="font-size:125%;line-height:0">)</span> ∼ 𝒩<span style="font-size:125%;line-height:0">(</span><b><i>z</i></b><sup style="font-size:60%"><i>n</i></sup><sub style="font-size:60%;margin-left:-0.45em"><i>f</i>(<i>n</i>,<i>t</i><sub><i>i</i>+1</sub>)</sub>; <i>λ</i><b><i>z</i></b><sup style="font-size:60%"><i>n</i></sup><sub style="font-size:60%;margin-left:-0.45em"><i>f</i>(<i>n</i>,<i>t<sub>i</sub></i>)</sub> + <i>μ</i><b><i>g</i></b><sub><i>θ</i></sub>(<b><i>z</i></b><sup style="font-size:60%"><i>n</i></sup><sub style="font-size:60%;margin-left:-0.45em"><i>f</i>(<i>n</i>,<i>t</i>)</sub>, <i>f</i>(<i>n</i>, <i>t</i>); <b><i>x</i></b>), <i>σ</i><b>I</b><span style="font-size:125%;line-height:0">)</span></div>
<div class="a R" style="left:1582.9px;width:600px;text-align:right;top:1493.4px;font-size:19.4px;line-height:19.4px;">(11)</div>
<div class="a R " style="left:1267.7px;top:1522.0px;font-size:19.4px;line-height:19.4px;">8:</div>
<div class="a R " style="left:1294.6px;top:1522.0px;font-size:19.4px;line-height:19.4px;transform:scaleX(1.0536);transform-origin:0 0;"><b>end for</b></div>
<div class="a R " style="left:1267.7px;top:1544.4px;font-size:19.4px;line-height:19.4px;">9:</div>
<div class="a R " style="left:1294.6px;top:1544.4px;font-size:19.4px;line-height:19.4px;transform:scaleX(1.1100);transform-origin:0 0;word-spacing:1.495px;">Map <b><i>z</i></b><sub><i>t</i><sub style="font-size:80%"><i>M</i></sub></sub> to the nearest embedding <b><i>ŷ</i></b>.</div>
<div class="a" style="left:1258.8px;top:1576.05px;width:924.1px;height:1.7px;background:#666"></div>
<div class="a S " style="left:1250.7px;top:1616.8px;font-size:45.3px;line-height:45.3px;">Experimental Results</div>
<div class="a R " style="left:1253.5px;top:1702.0px;font-size:22.9px;line-height:22.9px;transform:scaleX(0.9994);transform-origin:0 0;">Table 1: Results on X<span class="sc">Sum</span> test set. The results of NAR and Semi-NAR are from Qi et al. [2021], and</div>
<div class="a R " style="left:1253.5px;top:1726.5px;font-size:22.9px;line-height:22.9px;word-spacing:0.815px;">the results of AR are from GLGE [Liu et al., 2021].</div>
<div class="a" style="left:1260.4px;top:1754.30px;width:906.1px;height:1.6px;background:#000"></div>
<div class="a R " style="left:1288.2px;top:1761.0px;font-size:20.8px;line-height:20.8px;"><b>Methods</b></div>
<div class="a R" style="left:1393.9px;width:600px;text-align:center;top:1761.0px;font-size:20.8px;line-height:20.8px;"><b>Pattern</b></div>
<div class="a M" style="left:1533.9px;width:600px;text-align:center;top:1764.6px;font-size:18px;line-height:18px;">ROUGE-1</div>
<div class="a M" style="left:1666.5px;width:600px;text-align:center;top:1764.6px;font-size:18px;line-height:18px;">ROUGE-2</div>
<div class="a M" style="left:1799.2px;width:600px;text-align:center;top:1764.6px;font-size:18px;line-height:18px;">ROUGE-L</div>
<div class="a" style="left:1619.00px;top:1762.0px;width:1.2px;height:25.0px;background:#000"></div>
<div class="a" style="left:1768.00px;top:1762.0px;width:1.2px;height:25.0px;background:#000"></div>
<div class="a" style="left:1260.4px;top:1789.30px;width:906.1px;height:1.0px;background:#000"></div>
<div class="a R " style="left:1288.2px;top:1795.7px;font-size:20.8px;line-height:20.8px;">NAT [Gu et al., 2017]</div>
<div class="a R" style="left:1533.9px;width:600px;text-align:center;top:1795.7px;font-size:20.8px;line-height:20.8px;">24.0</div>
<div class="a R" style="left:1666.5px;width:600px;text-align:center;top:1795.7px;font-size:20.8px;line-height:20.8px;">3.9</div>
<div class="a R" style="left:1799.2px;width:600px;text-align:center;top:1795.7px;font-size:20.8px;line-height:20.8px;">20.3</div>
<div class="a R " style="left:1288.2px;top:1819.3px;font-size:20.8px;line-height:20.8px;">iNAT [Lee et al., 2018]</div>
<div class="a R" style="left:1533.9px;width:600px;text-align:center;top:1819.3px;font-size:20.8px;line-height:20.8px;">24.0</div>
<div class="a R" style="left:1666.5px;width:600px;text-align:center;top:1819.3px;font-size:20.8px;line-height:20.8px;">4.0</div>
<div class="a R" style="left:1799.2px;width:600px;text-align:center;top:1819.3px;font-size:20.8px;line-height:20.8px;">20.4</div>
<div class="a R " style="left:1288.2px;top:1842.6px;font-size:20.8px;line-height:20.8px;">CMLM [Ghazvininejad et al., 2019]</div>
<div class="a R" style="left:1533.9px;width:600px;text-align:center;top:1842.6px;font-size:20.8px;line-height:20.8px;">23.8</div>
<div class="a R" style="left:1666.5px;width:600px;text-align:center;top:1842.6px;font-size:20.8px;line-height:20.8px;">3.6</div>
<div class="a R" style="left:1799.2px;width:600px;text-align:center;top:1842.6px;font-size:20.8px;line-height:20.8px;">20.2</div>
<div class="a R " style="left:1288.2px;top:1865.5px;font-size:20.8px;line-height:20.8px;">LevT [Gu et al., 2019]</div>
<div class="a R" style="left:1533.9px;width:600px;text-align:center;top:1865.5px;font-size:20.8px;line-height:20.8px;">24.8</div>
<div class="a R" style="left:1666.5px;width:600px;text-align:center;top:1865.5px;font-size:20.8px;line-height:20.8px;">4.2</div>
<div class="a R" style="left:1799.2px;width:600px;text-align:center;top:1865.5px;font-size:20.8px;line-height:20.8px;">20.9</div>
<div class="a R" style="left:1393.9px;width:600px;text-align:center;top:1830.6px;font-size:20.8px;line-height:20.8px;">NAR</div>
<div class="a" style="left:1619.00px;top:1794.8px;width:1.2px;height:95.7px;background:#000"></div>
<div class="a" style="left:1768.00px;top:1794.8px;width:1.2px;height:95.7px;background:#000"></div>
<div class="a" style="left:1260.4px;top:1895.00px;width:906.1px;height:1.0px;background:#000"></div>
<div class="a R " style="left:1288.2px;top:1901.4px;font-size:20.8px;line-height:20.8px;">InsT [Stern et al., 2019]</div>
<div class="a R" style="left:1533.9px;width:600px;text-align:center;top:1901.4px;font-size:20.8px;line-height:20.8px;">17.7</div>
<div class="a R" style="left:1666.5px;width:600px;text-align:center;top:1901.4px;font-size:20.8px;line-height:20.8px;">5.2</div>
<div class="a R" style="left:1799.2px;width:600px;text-align:center;top:1901.4px;font-size:20.8px;line-height:20.8px;">16.1</div>
<div class="a R " style="left:1288.2px;top:1924.6px;font-size:20.8px;line-height:20.8px;">iNAT [Lee et al., 2018]</div>
<div class="a R" style="left:1533.9px;width:600px;text-align:center;top:1924.6px;font-size:20.8px;line-height:20.8px;">27.0</div>
<div class="a R" style="left:1666.5px;width:600px;text-align:center;top:1924.6px;font-size:20.8px;line-height:20.8px;">6.9</div>
<div class="a R" style="left:1799.2px;width:600px;text-align:center;top:1924.6px;font-size:20.8px;line-height:20.8px;">22.4</div>
<div class="a R " style="left:1288.2px;top:1947.9px;font-size:20.8px;line-height:20.8px;">CMLM [Ghazvininejad et al., 2019]</div>
<div class="a R" style="left:1533.9px;width:600px;text-align:center;top:1947.9px;font-size:20.8px;line-height:20.8px;">29.1</div>
<div class="a R" style="left:1666.5px;width:600px;text-align:center;top:1947.9px;font-size:20.8px;line-height:20.8px;">7.7</div>
<div class="a R" style="left:1799.2px;width:600px;text-align:center;top:1947.9px;font-size:20.8px;line-height:20.8px;">23.0</div>
<div class="a R " style="left:1288.2px;top:1970.8px;font-size:20.8px;line-height:20.8px;">LevT [Gu et al., 2019]</div>
<div class="a R" style="left:1533.9px;width:600px;text-align:center;top:1970.8px;font-size:20.8px;line-height:20.8px;">25.3</div>
<div class="a R" style="left:1666.5px;width:600px;text-align:center;top:1970.8px;font-size:20.8px;line-height:20.8px;">7.4</div>
<div class="a R" style="left:1799.2px;width:600px;text-align:center;top:1970.8px;font-size:20.8px;line-height:20.8px;">21.5</div>
<div class="a R" style="left:1393.9px;width:600px;text-align:center;top:1936.1px;font-size:20.8px;line-height:20.8px;">Semi-NAR</div>
<div class="a" style="left:1619.00px;top:1900.5px;width:1.2px;height:95.3px;background:#000"></div>
<div class="a" style="left:1768.00px;top:1900.5px;width:1.2px;height:95.3px;background:#000"></div>
<div class="a" style="left:1260.4px;top:2000.30px;width:906.1px;height:1.0px;background:#000"></div>
<div class="a R " style="left:1288.2px;top:2006.3px;font-size:20.8px;line-height:20.8px;">LSTM [Greff et al., 2017]</div>
<div class="a R" style="left:1533.9px;width:600px;text-align:center;top:2006.3px;font-size:20.8px;line-height:20.8px;">25.1</div>
<div class="a R" style="left:1666.5px;width:600px;text-align:center;top:2006.3px;font-size:20.8px;line-height:20.8px;">6.9</div>
<div class="a R" style="left:1799.2px;width:600px;text-align:center;top:2006.3px;font-size:20.8px;line-height:20.8px;">19.9</div>
<div class="a R " style="left:1288.2px;top:2029.9px;font-size:20.8px;line-height:20.8px;">Transformer [Vaswani et al., 2017]</div>
<div class="a R" style="left:1533.9px;width:600px;text-align:center;top:2029.9px;font-size:20.8px;line-height:20.8px;">30.5</div>
<div class="a R" style="left:1666.5px;width:600px;text-align:center;top:2029.9px;font-size:20.8px;line-height:20.8px;"><span class="u">10.4</span></div>
<div class="a R" style="left:1799.2px;width:600px;text-align:center;top:2029.9px;font-size:20.8px;line-height:20.8px;">24.2</div>
<div class="a R" style="left:1393.9px;width:600px;text-align:center;top:2018.1px;font-size:20.8px;line-height:20.8px;">AR<sup style="font-size:55%;vertical-align:0.95em">10</sup></div>
<div class="a" style="left:1619.00px;top:2005.8px;width:1.2px;height:48.0px;background:#000"></div>
<div class="a" style="left:1768.00px;top:2005.8px;width:1.2px;height:48.0px;background:#000"></div>
<div class="a" style="left:1260.4px;top:2058.30px;width:906.1px;height:1.0px;background:#000"></div>
<div class="a R " style="left:1288.2px;top:2065.5px;font-size:20.8px;line-height:20.8px;">GENIE [Lin et al., 2023] (<i>k</i><span style="margin:0 1.6px"> = </span>50)</div>
<div class="a R" style="left:1533.9px;width:600px;text-align:center;top:2065.5px;font-size:20.8px;line-height:20.8px;">29.3</div>
<div class="a R" style="left:1666.5px;width:600px;text-align:center;top:2065.5px;font-size:20.8px;line-height:20.8px;">8.3</div>
<div class="a R" style="left:1799.2px;width:600px;text-align:center;top:2065.5px;font-size:20.8px;line-height:20.8px;">21.9</div>
<div class="a R " style="left:1288.2px;top:2088.3px;font-size:20.8px;line-height:20.8px;">AR-D<span class="sc">iffusion</span> (<i>k</i><span style="margin:0 1.6px"> = </span>50)</div>
<div class="a R" style="left:1533.9px;width:600px;text-align:center;top:2088.3px;font-size:20.8px;line-height:20.8px;"><span class="u">31.7</span></div>
<div class="a R" style="left:1666.5px;width:600px;text-align:center;top:2088.3px;font-size:20.8px;line-height:20.8px;">10.1</div>
<div class="a R" style="left:1799.2px;width:600px;text-align:center;top:2088.3px;font-size:20.8px;line-height:20.8px;"><span class="u">24.7</span></div>
<div class="a R " style="left:1288.2px;top:2111.6px;font-size:20.8px;line-height:20.8px;">AR-D<span class="sc">iffusion</span> (<i>k</i><span style="margin:0 1.6px"> = </span>500)</div>
<div class="a R" style="left:1533.9px;width:600px;text-align:center;top:2111.6px;font-size:20.8px;line-height:20.8px;"><b>32.2</b></div>
<div class="a R" style="left:1666.5px;width:600px;text-align:center;top:2111.6px;font-size:20.8px;line-height:20.8px;"><b>10.6</b></div>
<div class="a R" style="left:1799.2px;width:600px;text-align:center;top:2111.6px;font-size:20.8px;line-height:20.8px;"><b>25.2</b></div>
<div class="a R" style="left:1393.9px;width:600px;text-align:center;top:2088.5px;font-size:20.8px;line-height:20.8px;">Diffusion</div>
<div class="a" style="left:1619.00px;top:2063.8px;width:1.2px;height:72.4px;background:#000"></div>
<div class="a" style="left:1768.00px;top:2063.8px;width:1.2px;height:72.4px;background:#000"></div>
<div class="a" style="left:1260.4px;top:2140.40px;width:906.1px;height:1.6px;background:#000"></div>
<div class="a R " style="left:2401.7px;top:407.2px;font-size:23.5px;line-height:23.5px;word-spacing:1.593px;">Table 2: Results on C<span class="sc">nn</span>/D<span class="sc">aily</span>M<span class="sc">ail</span> test set. The results of AR are from GLGE Liu et al. [2021].</div>
<div class="a" style="left:2408.2px;top:436.00px;width:939.7px;height:1.6px;background:#000"></div>
<div class="a R " style="left:2439.8px;top:443.9px;font-size:21.6px;line-height:21.6px;"><b>Methods</b></div>
<div class="a R" style="left:2546.6px;width:600px;text-align:center;top:443.9px;font-size:21.6px;line-height:21.6px;"><b>Pattern</b></div>
<div class="a M" style="left:2690.6px;width:600px;text-align:center;top:447.8px;font-size:18.5px;line-height:18.5px;">ROUGE-1</div>
<div class="a M" style="left:2833.7px;width:600px;text-align:center;top:447.8px;font-size:18.5px;line-height:18.5px;">ROUGE-2</div>
<div class="a M" style="left:2975.9px;width:600px;text-align:center;top:447.8px;font-size:18.5px;line-height:18.5px;">ROUGE-L</div>
<div class="a" style="left:2773.25px;top:444.0px;width:1.1px;height:25.0px;background:#000"></div>
<div class="a" style="left:2919.35px;top:444.0px;width:1.1px;height:25.0px;background:#000"></div>
<div class="a" style="left:2408.2px;top:471.90px;width:939.7px;height:1.0px;background:#000"></div>
<div class="a R " style="left:2439.8px;top:479.1px;font-size:21.6px;line-height:21.6px;">LSTM [Greff et al., 2017]</div>
<div class="a R" style="left:2690.6px;width:600px;text-align:center;top:479.1px;font-size:21.6px;line-height:21.6px;">37.3</div>
<div class="a R" style="left:2833.7px;width:600px;text-align:center;top:479.1px;font-size:21.6px;line-height:21.6px;">15.7</div>
<div class="a R" style="left:2975.9px;width:600px;text-align:center;top:479.1px;font-size:21.6px;line-height:21.6px;">34.4</div>
<div class="a R " style="left:2439.8px;top:502.1px;font-size:21.6px;line-height:21.6px;">Transformer [Vaswani et al., 2017]</div>
<div class="a R" style="left:2690.6px;width:600px;text-align:center;top:502.1px;font-size:21.6px;line-height:21.6px;">39.5</div>
<div class="a R" style="left:2833.7px;width:600px;text-align:center;top:502.1px;font-size:21.6px;line-height:21.6px;"><span class="u">16.7</span></div>
<div class="a R" style="left:2975.9px;width:600px;text-align:center;top:502.1px;font-size:21.6px;line-height:21.6px;">36.7</div>
<div class="a R" style="left:2546.6px;width:600px;text-align:center;top:490.6px;font-size:21.6px;line-height:21.6px;">AR</div>
<div class="a" style="left:2773.25px;top:478.0px;width:1.1px;height:47.0px;background:#000"></div>
<div class="a" style="left:2919.35px;top:478.0px;width:1.1px;height:47.0px;background:#000"></div>
<div class="a" style="left:2408.2px;top:530.40px;width:939.7px;height:1.0px;background:#000"></div>
<div class="a R " style="left:2439.8px;top:537.5px;font-size:21.6px;line-height:21.6px;">GENIE [Lin et al., 2023] (<i>k</i><span style="margin:0 1.6px"> = </span>50)</div>
<div class="a R" style="left:2690.6px;width:600px;text-align:center;top:537.5px;font-size:21.6px;line-height:21.6px;">34.4</div>
<div class="a R" style="left:2833.7px;width:600px;text-align:center;top:537.5px;font-size:21.6px;line-height:21.6px;">12.8</div>
<div class="a R" style="left:2975.9px;width:600px;text-align:center;top:537.5px;font-size:21.6px;line-height:21.6px;">32.1</div>
<div class="a R " style="left:2439.8px;top:560.9px;font-size:21.6px;line-height:21.6px;">AR-D<span class="sc">iffusion</span> (<i>k</i><span style="margin:0 1.6px"> = </span>50)</div>
<div class="a R" style="left:2690.6px;width:600px;text-align:center;top:560.9px;font-size:21.6px;line-height:21.6px;"><span class="u">39.6</span></div>
<div class="a R" style="left:2833.7px;width:600px;text-align:center;top:560.9px;font-size:21.6px;line-height:21.6px;">16.3</div>
<div class="a R" style="left:2975.9px;width:600px;text-align:center;top:560.9px;font-size:21.6px;line-height:21.6px;"><span class="u">37.1</span></div>
<div class="a R " style="left:2439.8px;top:583.9px;font-size:21.6px;line-height:21.6px;">AR-D<span class="sc">iffusion</span> (<i>k</i><span style="margin:0 1.6px"> = </span>500)</div>
<div class="a R" style="left:2690.6px;width:600px;text-align:center;top:583.9px;font-size:21.6px;line-height:21.6px;"><b>40.2</b></div>
<div class="a R" style="left:2833.7px;width:600px;text-align:center;top:583.9px;font-size:21.6px;line-height:21.6px;"><b>17.1</b></div>
<div class="a R" style="left:2975.9px;width:600px;text-align:center;top:583.9px;font-size:21.6px;line-height:21.6px;"><b>37.7</b></div>
<div class="a R" style="left:2546.6px;width:600px;text-align:center;top:560.9px;font-size:21.6px;line-height:21.6px;">Diffusion</div>
<div class="a" style="left:2773.25px;top:537.0px;width:1.1px;height:70.0px;background:#000"></div>
<div class="a" style="left:2919.35px;top:537.0px;width:1.1px;height:70.0px;background:#000"></div>
<div class="a" style="left:2408.2px;top:612.50px;width:939.7px;height:1.6px;background:#000"></div>
<div class="a R " style="left:2422.1px;top:674.6px;font-size:23.2px;line-height:23.2px;word-spacing:3.534px;">Table 3: &nbsp;Results on IWSLT14 D<span class="sc">e</span>→E<span class="sc">n</span> test set following the setting of S<span class="sc">eq</span>D<span class="sc">iffu</span>S<span class="sc">eq</span>. &nbsp;“NFE”</div>
<div class="a R " style="left:2422.1px;top:701.0px;font-size:23.2px;line-height:23.2px;word-spacing:1.418px;">indicates the <b>N</b>umber of <b>F</b>unction <b>E</b>valuations [Ye et al., 2023].</div>
<div class="a" style="left:2434.9px;top:728.10px;width:914.1px;height:1.6px;background:#000"></div>
<div class="a R " style="left:2458.7px;top:734.5px;font-size:21.2px;line-height:21.2px;"><b>Methods</b></div>
<div class="a R" style="left:2585.5px;width:600px;text-align:center;top:734.5px;font-size:21.2px;line-height:21.2px;"><b>Pattern</b></div>
<div class="a M" style="left:2697.4px;width:600px;text-align:center;top:738.3px;font-size:18.2px;line-height:18.2px;">BLEU</div>
<div class="a R" style="left:2793.0px;width:600px;text-align:center;top:734.5px;font-size:21.2px;line-height:21.2px;"><b>Steps</b></div>
<div class="a R" style="left:2945.2px;width:600px;text-align:center;top:734.5px;font-size:21.2px;line-height:21.2px;"><b>NFE (Steps×<i>k</i>)</b></div>
<div class="a" style="left:2820.35px;top:737.0px;width:1.1px;height:25.0px;background:#000"></div>
<div class="a" style="left:2949.15px;top:737.0px;width:1.1px;height:25.0px;background:#000"></div>
<div class="a" style="left:3044.85px;top:737.0px;width:1.1px;height:25.0px;background:#000"></div>
<div class="a" style="left:2434.9px;top:764.50px;width:914.1px;height:1.0px;background:#000"></div>
<div class="a R " style="left:2458.7px;top:770.6px;font-size:21.2px;line-height:21.2px;">Transformer [Vaswani et al., 2017]</div>
<div class="a R" style="left:2585.5px;width:600px;text-align:center;top:770.6px;font-size:21.2px;line-height:21.2px;">AR</div>
<div class="a R" style="left:2697.4px;width:600px;text-align:center;top:770.6px;font-size:21.2px;line-height:21.2px;">34.74</div>
<div class="a R" style="left:2793.0px;width:600px;text-align:center;top:770.6px;font-size:21.2px;line-height:21.2px;">-</div>
<div class="a R" style="left:2945.2px;width:600px;text-align:center;top:770.6px;font-size:21.2px;line-height:21.2px;">-</div>
<div class="a" style="left:2820.35px;top:772.0px;width:1.1px;height:25.0px;background:#000"></div>
<div class="a" style="left:2949.15px;top:772.0px;width:1.1px;height:25.0px;background:#000"></div>
<div class="a" style="left:3044.85px;top:772.0px;width:1.1px;height:25.0px;background:#000"></div>
<div class="a" style="left:2434.9px;top:799.80px;width:914.1px;height:1.0px;background:#000"></div>
<div class="a R " style="left:2458.7px;top:805.9px;font-size:21.2px;line-height:21.2px;">CNAT [Bao et al., 2021]</div>
<div class="a R" style="left:2585.5px;width:600px;text-align:center;top:805.9px;font-size:21.2px;line-height:21.2px;">NAR</div>
<div class="a R" style="left:2697.4px;width:600px;text-align:center;top:805.9px;font-size:21.2px;line-height:21.2px;">29.81</div>
<div class="a R" style="left:2793.0px;width:600px;text-align:center;top:805.9px;font-size:21.2px;line-height:21.2px;">-</div>
<div class="a R" style="left:2945.2px;width:600px;text-align:center;top:805.9px;font-size:21.2px;line-height:21.2px;">-</div>
<div class="a" style="left:2820.35px;top:808.0px;width:1.1px;height:24.0px;background:#000"></div>
<div class="a" style="left:2949.15px;top:808.0px;width:1.1px;height:24.0px;background:#000"></div>
<div class="a" style="left:3044.85px;top:808.0px;width:1.1px;height:24.0px;background:#000"></div>
<div class="a" style="left:2434.9px;top:834.70px;width:914.1px;height:1.0px;background:#000"></div>
<div class="a R " style="left:2458.7px;top:840.8px;font-size:21.2px;line-height:21.2px;">SeqDiffuSeq [Yuan et al., 2022] (<i>k</i><span style="margin:0 1.6px"> = </span>1)</div>
<div class="a R" style="left:2697.4px;width:600px;text-align:center;top:840.8px;font-size:21.2px;line-height:21.2px;">29.83</div>
<div class="a R" style="left:2793.0px;width:600px;text-align:center;top:840.8px;font-size:21.2px;line-height:21.2px;">2,000</div>
<div class="a R" style="left:2945.2px;width:600px;text-align:center;top:840.8px;font-size:21.2px;line-height:21.2px;">2,000 (2,000 × 1)</div>
<div class="a R " style="left:2458.7px;top:864.6px;font-size:21.2px;line-height:21.2px;">AR-D<span class="sc">iffusion</span> (<i>k</i><span style="margin:0 1.6px"> = </span>1)</div>
<div class="a R" style="left:2697.4px;width:600px;text-align:center;top:864.6px;font-size:21.2px;line-height:21.2px;">30.19</div>
<div class="a R" style="left:2793.0px;width:600px;text-align:center;top:864.6px;font-size:21.2px;line-height:21.2px;">20</div>
<div class="a R" style="left:2945.2px;width:600px;text-align:center;top:864.6px;font-size:21.2px;line-height:21.2px;">20 (20 × 1)</div>
<div class="a R" style="left:2585.5px;width:600px;text-align:center;top:852.7px;font-size:21.2px;line-height:21.2px;">Diffusion</div>
<div class="a" style="left:2820.35px;top:842.0px;width:1.1px;height:48.0px;background:#000"></div>
<div class="a" style="left:2949.15px;top:842.0px;width:1.1px;height:48.0px;background:#000"></div>
<div class="a" style="left:3044.85px;top:842.0px;width:1.1px;height:48.0px;background:#000"></div>
<div class="a" style="left:2434.9px;top:893.30px;width:914.1px;height:1.0px;background:#000"></div>
<div class="a R " style="left:2458.7px;top:899.4px;font-size:21.2px;line-height:21.2px;">GENIE [Lin et al., 2023] (<i>k</i><span style="margin:0 1.6px"> = </span>50)</div>
<div class="a R" style="left:2697.4px;width:600px;text-align:center;top:899.4px;font-size:21.2px;line-height:21.2px;">30.08</div>
<div class="a R" style="left:2793.0px;width:600px;text-align:center;top:899.4px;font-size:21.2px;line-height:21.2px;">20</div>
<div class="a R" style="left:2945.2px;width:600px;text-align:center;top:899.4px;font-size:21.2px;line-height:21.2px;">1,000 (20 × 50)</div>
<div class="a R " style="left:2458.7px;top:922.8px;font-size:21.2px;line-height:21.2px;">AR-D<span class="sc">iffusion</span> (<i>k</i><span style="margin:0 1.6px"> = </span>50)</div>
<div class="a R" style="left:2697.4px;width:600px;text-align:center;top:922.8px;font-size:21.2px;line-height:21.2px;"><span class="u">34.95</span></div>
<div class="a R" style="left:2793.0px;width:600px;text-align:center;top:922.8px;font-size:21.2px;line-height:21.2px;">20</div>
<div class="a R" style="left:2945.2px;width:600px;text-align:center;top:922.8px;font-size:21.2px;line-height:21.2px;">1,000 (20 × 50)</div>
<div class="a R " style="left:2458.7px;top:945.3px;font-size:21.2px;line-height:21.2px;">AR-D<span class="sc">iffusion</span> (<i>k</i><span style="margin:0 1.6px"> = </span>500)</div>
<div class="a R" style="left:2697.4px;width:600px;text-align:center;top:945.3px;font-size:21.2px;line-height:21.2px;"><b>35.62</b></div>
<div class="a R" style="left:2793.0px;width:600px;text-align:center;top:945.3px;font-size:21.2px;line-height:21.2px;">20</div>
<div class="a R" style="left:2945.2px;width:600px;text-align:center;top:945.3px;font-size:21.2px;line-height:21.2px;">10,000 (20 × 500)</div>
<div class="a R" style="left:2585.5px;width:600px;text-align:center;top:922.8px;font-size:21.2px;line-height:21.2px;">Diffusion</div>
<div class="a" style="left:2820.35px;top:901.0px;width:1.1px;height:71.0px;background:#000"></div>
<div class="a" style="left:2949.15px;top:901.0px;width:1.1px;height:71.0px;background:#000"></div>
<div class="a" style="left:3044.85px;top:901.0px;width:1.1px;height:71.0px;background:#000"></div>
<div class="a" style="left:2434.9px;top:975.90px;width:914.1px;height:1.6px;background:#000"></div>
<div class="a R " style="left:2447.6px;top:1019.0px;font-size:23.0px;line-height:23.0px;word-spacing:0.533px;">Table 4: Results on C<span class="sc">ommon</span>G<span class="sc">en</span> dev set. Results of NAR and AR are from Lin et al. [2020].</div>
<div class="a" style="left:2428.9px;top:1047.20px;width:915.0px;height:1.6px;background:#000"></div>
<div class="a R " style="left:2440.4px;top:1054.9px;font-size:20.8px;line-height:20.8px;"><b>Methods</b></div>
<div class="a R" style="left:2544.3px;width:600px;text-align:center;top:1054.9px;font-size:20.8px;line-height:20.8px;"><b>Pattern</b></div>
<div class="a M" style="left:2665.5px;width:600px;text-align:center;top:1058.3px;font-size:18.2px;line-height:18.2px;">ROUGE-2/L</div>
<div class="a M" style="left:2805.8px;width:600px;text-align:center;top:1058.3px;font-size:18.2px;line-height:18.2px;">BLEU-3/4</div>
<div class="a M" style="left:2920.6px;width:600px;text-align:center;top:1058.3px;font-size:18.2px;line-height:18.2px;">METEOR</div>
<div class="a M" style="left:3004.8px;width:600px;text-align:center;top:1058.3px;font-size:18.2px;line-height:18.2px;">SPICE</div>
<div class="a" style="left:2792.75px;top:1056.0px;width:1.1px;height:25.0px;background:#000"></div>
<div class="a" style="left:2895.65px;top:1056.0px;width:1.1px;height:25.0px;background:#000"></div>
<div class="a" style="left:2428.9px;top:1083.30px;width:915.0px;height:1.0px;background:#000"></div>
<div class="a R " style="left:2440.4px;top:1088.9px;font-size:20.8px;line-height:20.8px;">bRNN-CopyNet [Gu et al., 2016]</div>
<div class="a R" style="left:2630.6px;width:600px;text-align:center;top:1088.9px;font-size:20.8px;line-height:20.8px;">9.23</div>
<div class="a R" style="left:2700.8px;width:600px;text-align:center;top:1088.9px;font-size:20.8px;line-height:20.8px;">30.57</div>
<div class="a R" style="left:2771.8px;width:600px;text-align:center;top:1088.9px;font-size:20.8px;line-height:20.8px;">13.60</div>
<div class="a R" style="left:2841.9px;width:600px;text-align:center;top:1088.9px;font-size:20.8px;line-height:20.8px;">7.80</div>
<div class="a R" style="left:2921.4px;width:600px;text-align:center;top:1088.9px;font-size:20.8px;line-height:20.8px;">17.40</div>
<div class="a R" style="left:3004.8px;width:600px;text-align:center;top:1088.9px;font-size:20.8px;line-height:20.8px;">16.90</div>
<div class="a R " style="left:2440.4px;top:1113.1px;font-size:20.8px;line-height:20.8px;">Trans-CopyNet [Lin et al., 2020]</div>
<div class="a R" style="left:2630.6px;width:600px;text-align:center;top:1113.1px;font-size:20.8px;line-height:20.8px;">11.08</div>
<div class="a R" style="left:2700.8px;width:600px;text-align:center;top:1113.1px;font-size:20.8px;line-height:20.8px;">32.57</div>
<div class="a R" style="left:2771.8px;width:600px;text-align:center;top:1113.1px;font-size:20.8px;line-height:20.8px;">17.20</div>
<div class="a R" style="left:2841.9px;width:600px;text-align:center;top:1113.1px;font-size:20.8px;line-height:20.8px;">10.60</div>
<div class="a R" style="left:2921.4px;width:600px;text-align:center;top:1113.1px;font-size:20.8px;line-height:20.8px;">18.80</div>
<div class="a R" style="left:3004.8px;width:600px;text-align:center;top:1113.1px;font-size:20.8px;line-height:20.8px;">18.00</div>
<div class="a R " style="left:2440.4px;top:1136.5px;font-size:20.8px;line-height:20.8px;">MeanPooling-CopyNet [Lin et al., 2020]</div>
<div class="a R" style="left:2630.6px;width:600px;text-align:center;top:1136.5px;font-size:20.8px;line-height:20.8px;">11.36</div>
<div class="a R" style="left:2700.8px;width:600px;text-align:center;top:1136.5px;font-size:20.8px;line-height:20.8px;">34.63</div>
<div class="a R" style="left:2771.8px;width:600px;text-align:center;top:1136.5px;font-size:20.8px;line-height:20.8px;">14.80</div>
<div class="a R" style="left:2841.9px;width:600px;text-align:center;top:1136.5px;font-size:20.8px;line-height:20.8px;">8.90</div>
<div class="a R" style="left:2921.4px;width:600px;text-align:center;top:1136.5px;font-size:20.8px;line-height:20.8px;">19.20</div>
<div class="a R" style="left:3004.8px;width:600px;text-align:center;top:1136.5px;font-size:20.8px;line-height:20.8px;">20.20</div>
<div class="a R" style="left:2544.3px;width:600px;text-align:center;top:1113.1px;font-size:20.8px;line-height:20.8px;">AR</div>
<div class="a" style="left:2792.75px;top:1090.0px;width:1.1px;height:72.0px;background:#000"></div>
<div class="a" style="left:2895.65px;top:1090.0px;width:1.1px;height:72.0px;background:#000"></div>
<div class="a" style="left:3035.95px;top:1090.0px;width:1.1px;height:72.0px;background:#000"></div>
<div class="a" style="left:3176.65px;top:1090.0px;width:1.1px;height:72.0px;background:#000"></div>
<div class="a" style="left:2428.9px;top:1165.30px;width:915.0px;height:1.0px;background:#000"></div>
<div class="a R " style="left:2440.4px;top:1171.0px;font-size:20.8px;line-height:20.8px;">LevT [Gu et al., 2019]</div>
<div class="a R" style="left:2630.6px;width:600px;text-align:center;top:1171.0px;font-size:20.8px;line-height:20.8px;">12.22</div>
<div class="a R" style="left:2700.8px;width:600px;text-align:center;top:1171.0px;font-size:20.8px;line-height:20.8px;"><span class="u">35.42</span></div>
<div class="a R" style="left:2771.8px;width:600px;text-align:center;top:1171.0px;font-size:20.8px;line-height:20.8px;"><span class="u">23.10</span></div>
<div class="a R" style="left:2841.9px;width:600px;text-align:center;top:1171.0px;font-size:20.8px;line-height:20.8px;"><span class="u">15.00</span></div>
<div class="a R" style="left:2921.4px;width:600px;text-align:center;top:1171.0px;font-size:20.8px;line-height:20.8px;">22.10</div>
<div class="a R" style="left:3004.8px;width:600px;text-align:center;top:1171.0px;font-size:20.8px;line-height:20.8px;">21.40</div>
<div class="a R " style="left:2440.4px;top:1195.2px;font-size:20.8px;line-height:20.8px;">ConstLeven [Susanto et al., 2020]</div>
<div class="a R" style="left:2630.6px;width:600px;text-align:center;top:1195.2px;font-size:20.8px;line-height:20.8px;"><span class="u">13.47</span></div>
<div class="a R" style="left:2700.8px;width:600px;text-align:center;top:1195.2px;font-size:20.8px;line-height:20.8px;">35.19</div>
<div class="a R" style="left:2771.8px;width:600px;text-align:center;top:1195.2px;font-size:20.8px;line-height:20.8px;">21.30</div>
<div class="a R" style="left:2841.9px;width:600px;text-align:center;top:1195.2px;font-size:20.8px;line-height:20.8px;">12.30</div>
<div class="a R" style="left:2921.4px;width:600px;text-align:center;top:1195.2px;font-size:20.8px;line-height:20.8px;"><b>25.00</b></div>
<div class="a R" style="left:3004.8px;width:600px;text-align:center;top:1195.2px;font-size:20.8px;line-height:20.8px;"><span class="u">&nbsp;23.20</span></div>
<div class="a R" style="left:2544.3px;width:600px;text-align:center;top:1183.1px;font-size:20.8px;line-height:20.8px;">NAR</div>
<div class="a" style="left:2792.75px;top:1173.0px;width:1.1px;height:48.0px;background:#000"></div>
<div class="a" style="left:2895.65px;top:1173.0px;width:1.1px;height:48.0px;background:#000"></div>
<div class="a" style="left:3035.95px;top:1173.0px;width:1.1px;height:48.0px;background:#000"></div>
<div class="a" style="left:3176.65px;top:1173.0px;width:1.1px;height:48.0px;background:#000"></div>
<div class="a" style="left:2428.9px;top:1224.00px;width:915.0px;height:1.0px;background:#000"></div>
<div class="a R " style="left:2440.4px;top:1230.0px;font-size:20.8px;line-height:20.8px;">GENIE [Lin et al., 2023] (<i>k</i><span style="margin:0 1.6px"> = </span>50)</div>
<div class="a R" style="left:2630.6px;width:600px;text-align:center;top:1230.0px;font-size:20.8px;line-height:20.8px;">12.89</div>
<div class="a R" style="left:2700.8px;width:600px;text-align:center;top:1230.0px;font-size:20.8px;line-height:20.8px;">35.21</div>
<div class="a R" style="left:2771.8px;width:600px;text-align:center;top:1230.0px;font-size:20.8px;line-height:20.8px;">22.00</div>
<div class="a R" style="left:2841.9px;width:600px;text-align:center;top:1230.0px;font-size:20.8px;line-height:20.8px;">13.30</div>
<div class="a R" style="left:2921.4px;width:600px;text-align:center;top:1230.0px;font-size:20.8px;line-height:20.8px;"><span class="u">24.30</span></div>
<div class="a R" style="left:3004.8px;width:600px;text-align:center;top:1230.0px;font-size:20.8px;line-height:20.8px;">23.00</div>
<div class="a R " style="left:2440.4px;top:1253.4px;font-size:20.8px;line-height:20.8px;">AR-D<span class="sc">iffusion</span> (<i>k</i><span style="margin:0 1.6px"> = </span>50)</div>
<div class="a R" style="left:2630.6px;width:600px;text-align:center;top:1253.4px;font-size:20.8px;line-height:20.8px;"><b>13.93</b></div>
<div class="a R" style="left:2700.8px;width:600px;text-align:center;top:1253.4px;font-size:20.8px;line-height:20.8px;"><b>37.36</b></div>
<div class="a R" style="left:2771.8px;width:600px;text-align:center;top:1253.4px;font-size:20.8px;line-height:20.8px;"><b>25.60</b></div>
<div class="a R" style="left:2841.9px;width:600px;text-align:center;top:1253.4px;font-size:20.8px;line-height:20.8px;"><b>16.40</b></div>
<div class="a R" style="left:2921.4px;width:600px;text-align:center;top:1253.4px;font-size:20.8px;line-height:20.8px;"><b>25.00</b></div>
<div class="a R" style="left:3004.8px;width:600px;text-align:center;top:1253.4px;font-size:20.8px;line-height:20.8px;"><b>24.20</b></div>
<div class="a R" style="left:2544.3px;width:600px;text-align:center;top:1241.7px;font-size:20.8px;line-height:20.8px;">Diffusion</div>
<div class="a" style="left:2792.75px;top:1232.0px;width:1.1px;height:47.0px;background:#000"></div>
<div class="a" style="left:2895.65px;top:1232.0px;width:1.1px;height:47.0px;background:#000"></div>
<div class="a" style="left:3035.95px;top:1232.0px;width:1.1px;height:47.0px;background:#000"></div>
<div class="a" style="left:3176.65px;top:1232.0px;width:1.1px;height:47.0px;background:#000"></div>
<div class="a" style="left:2428.9px;top:1282.80px;width:915.0px;height:1.6px;background:#000"></div>
<div class="a S " style="left:2436.1px;top:1326.3px;font-size:45.3px;line-height:45.3px;">Inference Speed and Case Study</div>
<div class="a R " style="left:2431.9px;top:1417.5px;font-size:23.2px;line-height:23.2px;word-spacing:2.286px;">Table 5: Experimental results of GENIE and AR-D<span class="sc">iffusion</span> with inference steps of <b>2</b> and <b>3</b> on</div>
<div class="a R " style="left:2431.9px;top:1443.4px;font-size:23.2px;line-height:23.2px;word-spacing:2.848px;">X<span class="sc">Sum</span> test set. &nbsp;Take <i>k</i> = 10 to apply the MBR decoding strategy. &nbsp;(·) indicates the <b>drop</b> score</div>
<div class="a R " style="left:2431.9px;top:1468.5px;font-size:23.2px;line-height:23.2px;transform:scaleX(0.9977);transform-origin:0 0;">compared to the 20-step.</div>
<div class="a" style="left:2433.2px;top:1496.10px;width:915.8px;height:1.6px;background:#000"></div>
<div class="a R " style="left:2451.9px;top:1503.7px;font-size:20.8px;line-height:20.8px;"><b>Methods</b></div>
<div class="a R" style="left:2350.0px;width:600px;text-align:center;top:1503.7px;font-size:20.8px;line-height:20.8px;"><b>Steps</b></div>
<div class="a R" style="left:2440.1px;width:600px;text-align:center;top:1503.7px;font-size:20.8px;line-height:20.8px;"><b>NFE</b></div>
<div class="a M" style="left:2560.5px;width:600px;text-align:center;top:1507.1px;font-size:18.2px;line-height:18.2px;">ROUGE-1</div>
<div class="a M" style="left:2702.9px;width:600px;text-align:center;top:1507.1px;font-size:18.2px;line-height:18.2px;">ROUGE-2</div>
<div class="a M" style="left:2844.0px;width:600px;text-align:center;top:1507.1px;font-size:18.2px;line-height:18.2px;">ROUGE-L</div>
<div class="a R" style="left:2983.5px;width:600px;text-align:center;top:1503.7px;font-size:20.8px;line-height:20.8px;"><b>AVG Drop</b></div>
<div class="a" style="left:2607.75px;top:1505.0px;width:1.1px;height:24.0px;background:#000"></div>
<div class="a" style="left:2787.25px;top:1505.0px;width:1.1px;height:24.0px;background:#000"></div>
<div class="a" style="left:3217.85px;top:1505.0px;width:1.1px;height:24.0px;background:#000"></div>
<div class="a" style="left:2433.2px;top:1532.10px;width:915.8px;height:1.0px;background:#000"></div>
<div class="a R" style="left:2350.0px;width:600px;text-align:center;top:1537.7px;font-size:20.8px;line-height:20.8px;">2,000</div>
<div class="a R" style="left:2440.1px;width:600px;text-align:center;top:1537.7px;font-size:20.8px;line-height:20.8px;">20,000</div>
<div class="a R" style="left:2560.5px;width:600px;text-align:center;top:1537.7px;font-size:20.8px;line-height:20.8px;">30.36</div>
<div class="a R" style="left:2702.9px;width:600px;text-align:center;top:1537.7px;font-size:20.8px;line-height:20.8px;">8.78</div>
<div class="a R" style="left:2844.0px;width:600px;text-align:center;top:1537.7px;font-size:20.8px;line-height:20.8px;">23.31</div>
<div class="a R" style="left:2983.5px;width:600px;text-align:center;top:1537.7px;font-size:20.8px;line-height:20.8px;">-</div>
<div class="a" style="left:2607.75px;top:1540.0px;width:1.1px;height:23.0px;background:#000"></div>
<div class="a" style="left:2787.25px;top:1540.0px;width:1.1px;height:23.0px;background:#000"></div>
<div class="a" style="left:3217.85px;top:1540.0px;width:1.1px;height:23.0px;background:#000"></div>
<div class="a" style="left:2608.3px;top:1567.40px;width:740.7px;height:1.0px;background:#000"></div>
<div class="a R" style="left:2350.0px;width:600px;text-align:center;top:1573.0px;font-size:20.8px;line-height:20.8px;">20</div>
<div class="a R" style="left:2440.1px;width:600px;text-align:center;top:1573.0px;font-size:20.8px;line-height:20.8px;">200</div>
<div class="a R" style="left:2560.5px;width:600px;text-align:center;top:1573.0px;font-size:20.8px;line-height:20.8px;">28.33</div>
<div class="a R" style="left:2702.9px;width:600px;text-align:center;top:1573.0px;font-size:20.8px;line-height:20.8px;">7.46</div>
<div class="a R" style="left:2844.0px;width:600px;text-align:center;top:1573.0px;font-size:20.8px;line-height:20.8px;">21.15</div>
<div class="a R" style="left:2983.5px;width:600px;text-align:center;top:1573.0px;font-size:20.8px;line-height:20.8px;">-</div>
<div class="a" style="left:2607.75px;top:1575.0px;width:1.1px;height:24.0px;background:#000"></div>
<div class="a" style="left:2787.25px;top:1575.0px;width:1.1px;height:24.0px;background:#000"></div>
<div class="a" style="left:3217.85px;top:1575.0px;width:1.1px;height:24.0px;background:#000"></div>
<div class="a" style="left:2608.3px;top:1602.20px;width:740.7px;height:1.0px;background:#000"></div>
<div class="a R" style="left:2350.0px;width:600px;text-align:center;top:1607.9px;font-size:20.8px;line-height:20.8px;">3</div>
<div class="a R" style="left:2440.1px;width:600px;text-align:center;top:1607.9px;font-size:20.8px;line-height:20.8px;">30</div>
<div class="a R" style="left:2560.5px;width:600px;text-align:center;top:1607.9px;font-size:20.8px;line-height:20.8px;">25.03 (-3.30)</div>
<div class="a R" style="left:2702.9px;width:600px;text-align:center;top:1607.9px;font-size:20.8px;line-height:20.8px;">5.32 (-2.14)</div>
<div class="a R" style="left:2844.0px;width:600px;text-align:center;top:1607.9px;font-size:20.8px;line-height:20.8px;">18.17 (-2.98)</div>
<div class="a R" style="left:2983.5px;width:600px;text-align:center;top:1607.9px;font-size:20.8px;line-height:20.8px;">2.81</div>
<div class="a R" style="left:2350.0px;width:600px;text-align:center;top:1631.2px;font-size:20.8px;line-height:20.8px;">2</div>
<div class="a R" style="left:2440.1px;width:600px;text-align:center;top:1631.2px;font-size:20.8px;line-height:20.8px;">20</div>
<div class="a R" style="left:2560.5px;width:600px;text-align:center;top:1631.2px;font-size:20.8px;line-height:20.8px;">23.45 (-4.88)</div>
<div class="a R" style="left:2702.9px;width:600px;text-align:center;top:1631.2px;font-size:20.8px;line-height:20.8px;">3.95 (-3.51)</div>
<div class="a R" style="left:2844.0px;width:600px;text-align:center;top:1631.2px;font-size:20.8px;line-height:20.8px;">16.94 (-4.21)</div>
<div class="a R" style="left:2983.5px;width:600px;text-align:center;top:1631.2px;font-size:20.8px;line-height:20.8px;">4.20</div>
<div class="a" style="left:2607.75px;top:1610.0px;width:1.1px;height:47.0px;background:#000"></div>
<div class="a" style="left:2787.25px;top:1610.0px;width:1.1px;height:47.0px;background:#000"></div>
<div class="a" style="left:3217.85px;top:1610.0px;width:1.1px;height:47.0px;background:#000"></div>
<div class="a R " style="left:2451.9px;top:1584.5px;font-size:20.8px;line-height:20.8px;">GENIE</div>
<div class="a" style="left:2433.2px;top:1660.90px;width:915.8px;height:1.0px;background:#000"></div>
<div class="a R" style="left:2350.0px;width:600px;text-align:center;top:1667.4px;font-size:20.8px;line-height:20.8px;">20</div>
<div class="a R" style="left:2440.1px;width:600px;text-align:center;top:1667.4px;font-size:20.8px;line-height:20.8px;">200</div>
<div class="a R" style="left:2560.5px;width:600px;text-align:center;top:1667.4px;font-size:20.8px;line-height:20.8px;">30.99</div>
<div class="a R" style="left:2702.9px;width:600px;text-align:center;top:1667.4px;font-size:20.8px;line-height:20.8px;">9.32</div>
<div class="a R" style="left:2844.0px;width:600px;text-align:center;top:1667.4px;font-size:20.8px;line-height:20.8px;">23.95</div>
<div class="a R" style="left:2983.5px;width:600px;text-align:center;top:1667.4px;font-size:20.8px;line-height:20.8px;">-</div>
<div class="a" style="left:2607.75px;top:1669.0px;width:1.1px;height:24.0px;background:#000"></div>
<div class="a" style="left:2787.25px;top:1669.0px;width:1.1px;height:24.0px;background:#000"></div>
<div class="a" style="left:3217.85px;top:1669.0px;width:1.1px;height:24.0px;background:#000"></div>
<div class="a" style="left:2608.3px;top:1696.20px;width:740.7px;height:1.0px;background:#000"></div>
<div class="a R" style="left:2350.0px;width:600px;text-align:center;top:1702.2px;font-size:20.8px;line-height:20.8px;">3</div>
<div class="a R" style="left:2440.1px;width:600px;text-align:center;top:1702.2px;font-size:20.8px;line-height:20.8px;">30</div>
<div class="a R" style="left:2560.5px;width:600px;text-align:center;top:1702.2px;font-size:20.8px;line-height:20.8px;">30.23 (-0.76)</div>
<div class="a R" style="left:2702.9px;width:600px;text-align:center;top:1702.2px;font-size:20.8px;line-height:20.8px;">8.68 (-0.64)</div>
<div class="a R" style="left:2844.0px;width:600px;text-align:center;top:1702.2px;font-size:20.8px;line-height:20.8px;">23.43 (-0.52)</div>
<div class="a R" style="left:2983.5px;width:600px;text-align:center;top:1702.2px;font-size:20.8px;line-height:20.8px;"><b>0.64</b></div>
<div class="a R" style="left:2350.0px;width:600px;text-align:center;top:1724.8px;font-size:20.8px;line-height:20.8px;">2</div>
<div class="a R" style="left:2440.1px;width:600px;text-align:center;top:1724.8px;font-size:20.8px;line-height:20.8px;">20</div>
<div class="a R" style="left:2560.5px;width:600px;text-align:center;top:1724.8px;font-size:20.8px;line-height:20.8px;">29.28 (-1.71)</div>
<div class="a R" style="left:2702.9px;width:600px;text-align:center;top:1724.8px;font-size:20.8px;line-height:20.8px;">7.99 (-1.33)</div>
<div class="a R" style="left:2844.0px;width:600px;text-align:center;top:1724.8px;font-size:20.8px;line-height:20.8px;">22.98 (-0.97)</div>
<div class="a R" style="left:2983.5px;width:600px;text-align:center;top:1724.8px;font-size:20.8px;line-height:20.8px;"><b>1.34</b></div>
<div class="a" style="left:2607.75px;top:1704.0px;width:1.1px;height:47.0px;background:#000"></div>
<div class="a" style="left:2787.25px;top:1704.0px;width:1.1px;height:47.0px;background:#000"></div>
<div class="a" style="left:3217.85px;top:1704.0px;width:1.1px;height:47.0px;background:#000"></div>
<div class="a R " style="left:2451.9px;top:1689.9px;font-size:20.8px;line-height:20.8px;">AR-D<span class="sc">iffusion</span></div>
<div class="a" style="left:2433.2px;top:1754.10px;width:915.8px;height:1.6px;background:#000"></div>
<div class="a" style="left:2459.2px;top:1809.2px;width:10.8px;height:227px;background:linear-gradient(#e6fbff 0%,#9fe0ff 10%,#5ab4ff 35%,#2a78f5 55%,#1040e0 75%,#0a10cc 100%)"></div>
<svg class="a" style="left:2452px;top:2034px" width="26" height="16" viewBox="0 0 26 16"><path d="M1.3,1.5 L24.1,1.5 L12.7,14 Z" fill="#0a10cc"/></svg>
<div class="a S" style="left:1849.8px;width:600px;text-align:right;top:1810.6px;font-size:8.6px;line-height:8.6px;">12.0</div>
<div class="a" style="left:2450.4px;top:1814.20px;width:8.4px;height:1.0px;background:#222"></div>
<div class="a S" style="left:1849.8px;width:600px;text-align:right;top:1864.9px;font-size:8.6px;line-height:8.6px;">14.0</div>
<div class="a" style="left:2450.4px;top:1868.50px;width:8.4px;height:1.0px;background:#222"></div>
<div class="a S" style="left:1849.8px;width:600px;text-align:right;top:1918.3px;font-size:8.6px;line-height:8.6px;">16.0</div>
<div class="a" style="left:2450.4px;top:1921.90px;width:8.4px;height:1.0px;background:#222"></div>
<div class="a S" style="left:1849.8px;width:600px;text-align:right;top:1971.4px;font-size:8.6px;line-height:8.6px;">18.0</div>
<div class="a" style="left:2450.4px;top:1975.00px;width:8.4px;height:1.0px;background:#222"></div>
<div class="a S" style="left:1849.8px;width:600px;text-align:right;top:2024.5px;font-size:8.6px;line-height:8.6px;">20.0</div>
<div class="a" style="left:2450.4px;top:2028.10px;width:8.4px;height:1.0px;background:#222"></div>
<div class="a" style="left:2479px;top:1808.7px;width:869px;height:42px;border-radius:8px;background:#e6e7ec;filter:blur(1.5px)"></div>
<div class="a" style="left:2486.3px;top:1810.2px;width:852px;height:39.8px;border-radius:7px;background:#f2f2f5"></div>
<div class="a R " style="left:2499.2px;top:1818.9px;font-size:18.9px;line-height:18.9px;transform:scaleX(0.9512);transform-origin:0 0;"><span style="color:#6cc6f8">operatives time ##vy β service ##loading [unused71] less ##† ##ल cfl ॰travelling northern ##<sup style="font-size:60%">D</sup> ##″ earlier failed</span></div>
<div class="a" style="left:2479px;top:1858.7px;width:869px;height:42px;border-radius:8px;background:#e6e7ec;filter:blur(1.5px)"></div>
<div class="a" style="left:2486.3px;top:1860.2px;width:852px;height:39.8px;border-radius:7px;background:#f2f2f5"></div>
<div class="a R " style="left:2499.2px;top:1868.9px;font-size:18.9px;line-height:18.9px;transform:scaleX(0.9488);transform-origin:0 0;"><span style="color:#3484ee">a</span><span style="color:#6cc6f8"> government </span><span style="color:#1e5cec">plan to lift with</span><span style="color:#6cc6f8"> ##<span style="font-family:'Liberation Serif','Noto Sans CJK KR',serif">ᄐ</span> getting ##ße to 50 - public ځcleaning selangor shared intended dublin college</span></div>
<div class="a" style="left:2479px;top:1907.7px;width:869px;height:42px;border-radius:8px;background:#e6e7ec;filter:blur(1.5px)"></div>
<div class="a" style="left:2486.3px;top:1909.2px;width:852px;height:39.8px;border-radius:7px;background:#f2f2f5"></div>
<div class="a R " style="left:2499.2px;top:1918.9px;font-size:18.9px;line-height:18.9px;transform:scaleX(0.9436);transform-origin:0 0;"><span style="color:#1e5cec">a</span><span style="color:#3484ee"> government </span><span style="color:#3484ee">plan to petition with</span><span style="color:#6cc6f8"> public than </span><span style="color:#1e5cec">prices to research</span><span style="color:#4da7f5"> and </span><span style="color:#1e5cec">public</span><span style="color:#6cc6f8"> leiden cleaningp selangor discovered</span></div>
<div class="a" style="left:2479px;top:1957.7px;width:869px;height:42px;border-radius:8px;background:#e6e7ec;filter:blur(1.5px)"></div>
<div class="a" style="left:2486.3px;top:1959.2px;width:852px;height:39.8px;border-radius:7px;background:#f2f2f5"></div>
<div class="a R " style="left:2499.2px;top:1968.9px;font-size:18.9px;line-height:18.9px;transform:scaleX(0.9452);transform-origin:0 0;"><span style="color:#2210c4">a government</span><span style="color:#4da7f5"> plan </span><span style="color:#1e5cec">to deal with public</span><span style="color:#4da7f5"> spending </span><span style="color:#1838dc">cuts</span><span style="color:#2210c4"> to </span><span style="color:#1e5cec">research and public sectorcare</span><span style="color:#4da7f5"> , </span><span style="color:#1e5cec">figures</span><span style="color:#6cc6f8"> obtained </span><span style="color:#2210c4">by the</span><span style="color:#6cc6f8"> tata</span></div>
<div class="a" style="left:2479px;top:2006.6px;width:869px;height:42px;border-radius:8px;background:#e6e7ec;filter:blur(1.5px)"></div>
<div class="a" style="left:2486.3px;top:2008.1px;width:852px;height:39.8px;border-radius:7px;background:#f2f2f5"></div>
<div class="a R " style="left:2499.2px;top:2017.9px;font-size:18.9px;line-height:18.9px;transform:scaleX(0.9458);transform-origin:0 0;"><span style="color:#2210c4">a government plan to deal with public spending cuts to research and public sector , figures obtained by the bbc .</span></div>
<div class="a R " style="left:2424.7px;top:2068.5px;font-size:23.5px;line-height:23.5px;word-spacing:0.219px;">Figure 3: The intermediate state of AR-D<span class="sc">iffusion</span> gradually generating real text from a standard</div>
<div class="a R " style="left:2424.7px;top:2094.0px;font-size:23.5px;line-height:23.5px;transform:scaleX(0.9942);transform-origin:0 0;">Gaussian noise through 20 steps. The brightness of the color represents the magnitude of the logits,</div>
<div class="a R " style="left:2424.7px;top:2119.5px;font-size:23.5px;line-height:23.5px;transform:scaleX(0.9836);transform-origin:0 0;">with darker colors indicating larger logits.</div>
</body></html>
